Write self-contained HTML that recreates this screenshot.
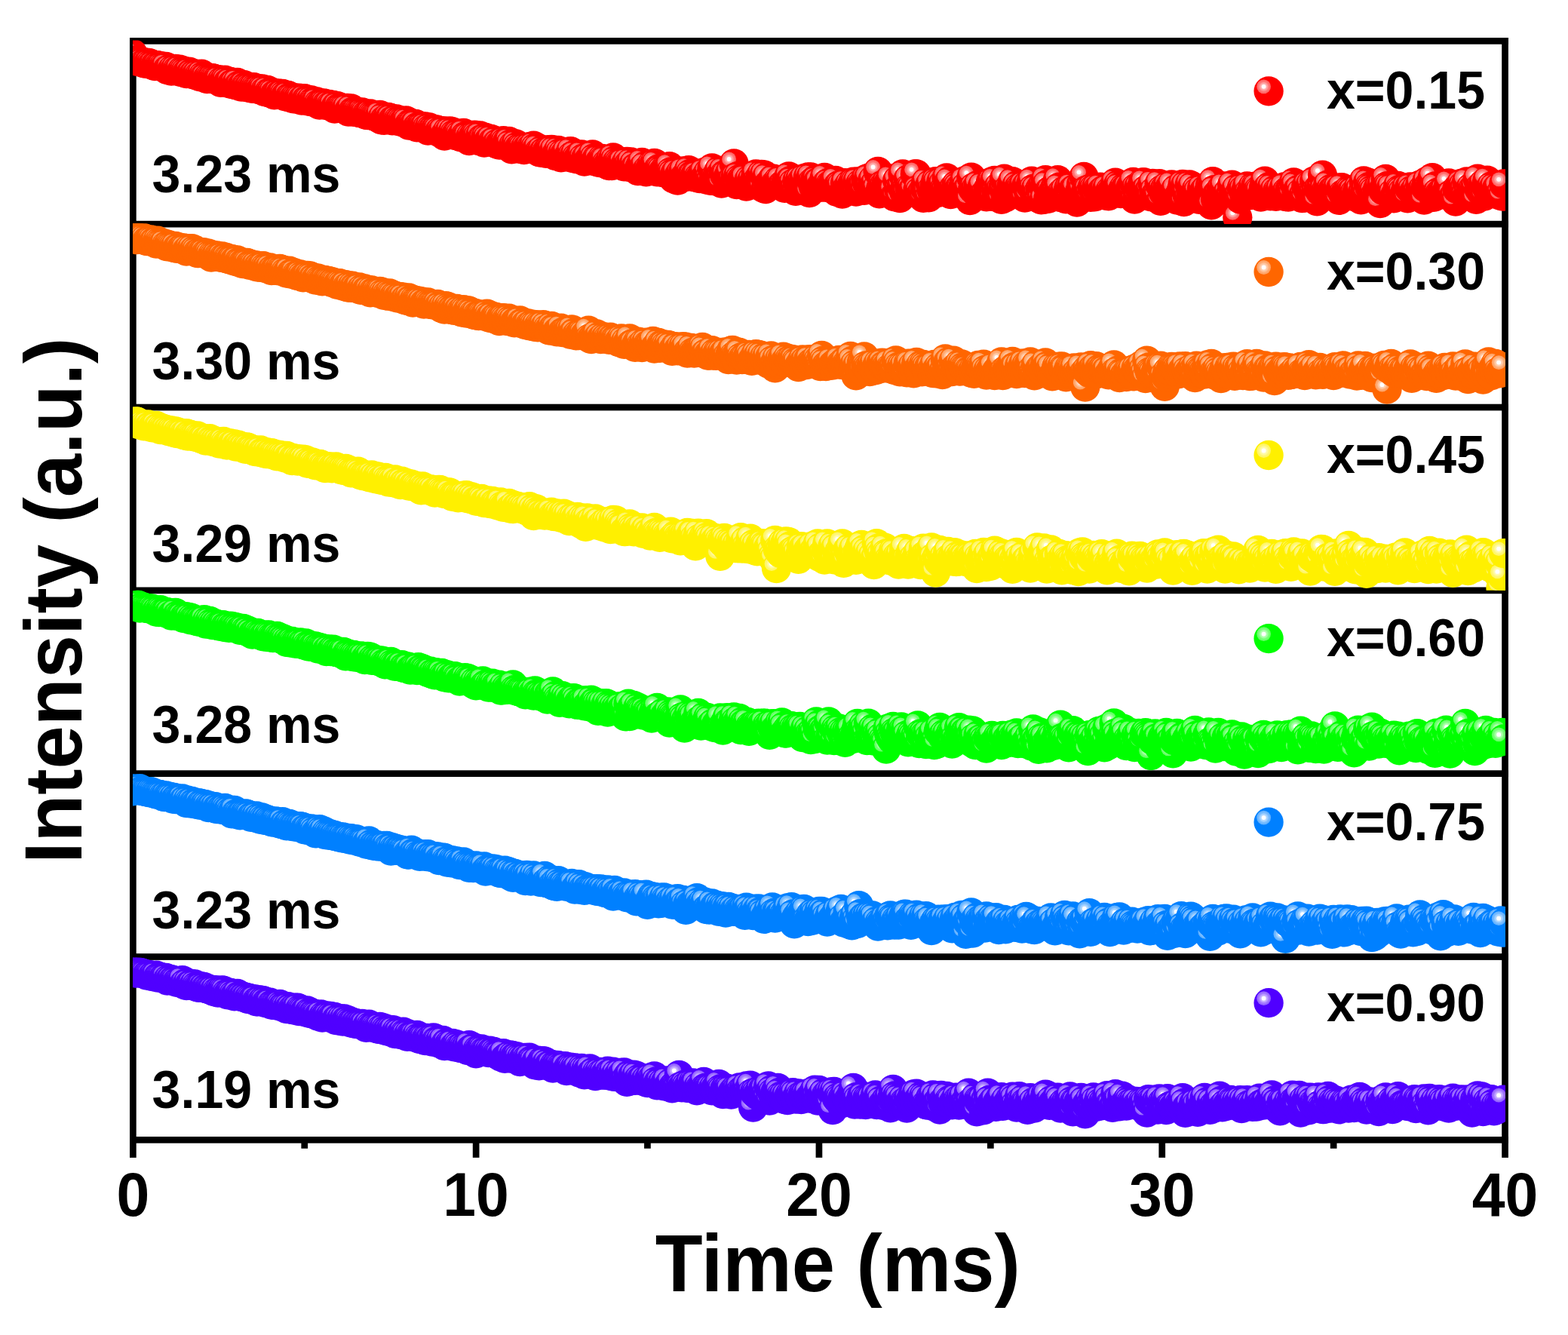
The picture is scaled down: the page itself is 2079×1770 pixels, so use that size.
<!DOCTYPE html>
<html lang="en"><head><meta charset="utf-8"><title>Decay curves</title>
<style>html,body{margin:0;padding:0;background:#fff}svg{display:block}text{font-family:"Liberation Sans",Arial,Helvetica,sans-serif;font-weight:bold;fill:#000}</style>
</head><body>
<svg width="2079" height="1770" viewBox="0 0 2079 1770">
<rect width="2079" height="1770" fill="#fff"/>
<defs>
<g id="s0"><circle r="19.65" fill="#ff0000"/><circle cx="-6.5" cy="-6" r="9.4" fill="#ff6666"/><circle cx="-6.5" cy="-6" r="7.6" fill="#ff7a7a"/><circle cx="-6.5" cy="-6" r="5.9" fill="#ff9e9e"/><circle cx="-6.5" cy="-6" r="4.3" fill="#ffb8b8"/><circle cx="-6.5" cy="-6" r="2.9" fill="#fff"/></g>
<marker id="m0" markerUnits="userSpaceOnUse" markerWidth="42" markerHeight="42" viewBox="-21 -21 42 42" refX="0" refY="0"><use href="#s0"/></marker>
<clipPath id="c0"><rect x="176" y="53.6" width="1820" height="243.5"/></clipPath>
<g id="s1"><circle r="19.65" fill="#ff6600"/><circle cx="-6.5" cy="-6" r="9.4" fill="#ffa366"/><circle cx="-6.5" cy="-6" r="7.6" fill="#ffaf7a"/><circle cx="-6.5" cy="-6" r="5.9" fill="#ffc59e"/><circle cx="-6.5" cy="-6" r="4.3" fill="#ffd4b8"/><circle cx="-6.5" cy="-6" r="2.9" fill="#fff"/></g>
<marker id="m1" markerUnits="userSpaceOnUse" markerWidth="42" markerHeight="42" viewBox="-21 -21 42 42" refX="0" refY="0"><use href="#s1"/></marker>
<clipPath id="c1"><rect x="176" y="296.5" width="1820" height="243.5"/></clipPath>
<g id="s2"><circle r="19.65" fill="#fff000"/><circle cx="-6.5" cy="-6" r="9.4" fill="#fff666"/><circle cx="-6.5" cy="-6" r="7.6" fill="#fff77a"/><circle cx="-6.5" cy="-6" r="5.9" fill="#fff99e"/><circle cx="-6.5" cy="-6" r="4.3" fill="#fffbb8"/><circle cx="-6.5" cy="-6" r="2.9" fill="#fff"/></g>
<marker id="m2" markerUnits="userSpaceOnUse" markerWidth="42" markerHeight="42" viewBox="-21 -21 42 42" refX="0" refY="0"><use href="#s2"/></marker>
<clipPath id="c2"><rect x="176" y="539.3" width="1820" height="243.5"/></clipPath>
<g id="s3"><circle r="19.65" fill="#00ff00"/><circle cx="-6.5" cy="-6" r="9.4" fill="#66ff66"/><circle cx="-6.5" cy="-6" r="7.6" fill="#7aff7a"/><circle cx="-6.5" cy="-6" r="5.9" fill="#9eff9e"/><circle cx="-6.5" cy="-6" r="4.3" fill="#b8ffb8"/><circle cx="-6.5" cy="-6" r="2.9" fill="#fff"/></g>
<marker id="m3" markerUnits="userSpaceOnUse" markerWidth="42" markerHeight="42" viewBox="-21 -21 42 42" refX="0" refY="0"><use href="#s3"/></marker>
<clipPath id="c3"><rect x="176" y="782.1" width="1820" height="243.5"/></clipPath>
<g id="s4"><circle r="19.65" fill="#0080ff"/><circle cx="-6.5" cy="-6" r="9.4" fill="#66b3ff"/><circle cx="-6.5" cy="-6" r="7.6" fill="#7abdff"/><circle cx="-6.5" cy="-6" r="5.9" fill="#9ecfff"/><circle cx="-6.5" cy="-6" r="4.3" fill="#b8dbff"/><circle cx="-6.5" cy="-6" r="2.9" fill="#fff"/></g>
<marker id="m4" markerUnits="userSpaceOnUse" markerWidth="42" markerHeight="42" viewBox="-21 -21 42 42" refX="0" refY="0"><use href="#s4"/></marker>
<clipPath id="c4"><rect x="176" y="1025" width="1820" height="243.5"/></clipPath>
<g id="s5"><circle r="19.65" fill="#5000ff"/><circle cx="-6.5" cy="-6" r="9.4" fill="#9666ff"/><circle cx="-6.5" cy="-6" r="7.6" fill="#a47aff"/><circle cx="-6.5" cy="-6" r="5.9" fill="#bc9eff"/><circle cx="-6.5" cy="-6" r="4.3" fill="#ceb8ff"/><circle cx="-6.5" cy="-6" r="2.9" fill="#fff"/></g>
<marker id="m5" markerUnits="userSpaceOnUse" markerWidth="42" markerHeight="42" viewBox="-21 -21 42 42" refX="0" refY="0"><use href="#s5"/></marker>
<clipPath id="c5"><rect x="176" y="1267.8" width="1820" height="243.5"/></clipPath>
</defs>
<g fill="#000">
<rect x="172" y="50" width="8.7" height="1484.9"/>
<rect x="1991.2" y="50" width="8.7" height="1484.9"/>
<rect x="172" y="50" width="1827.9" height="8.7"/>
<rect x="172" y="292.8" width="1827.9" height="8.7"/>
<rect x="172" y="535.7" width="1827.9" height="8.7"/>
<rect x="172" y="778.5" width="1827.9" height="8.7"/>
<rect x="172" y="1021.3" width="1827.9" height="8.7"/>
<rect x="172" y="1264.2" width="1827.9" height="8.7"/>
<rect x="172" y="1507" width="1827.9" height="8.7"/>
<rect x="626.8" y="1511.3" width="8.7" height="23.55"/>
<rect x="1081.6" y="1511.3" width="8.7" height="23.55"/>
<rect x="1536.4" y="1511.3" width="8.7" height="23.55"/>
<rect x="399.4" y="1511.3" width="8.7" height="11.45"/>
<rect x="854.1" y="1511.3" width="8.7" height="11.45"/>
<rect x="1309" y="1511.3" width="8.7" height="11.45"/>
<rect x="1763.8" y="1511.3" width="8.7" height="11.45"/>
</g>
<g clip-path="url(#c0)"><polyline fill="none" stroke="none" marker-start="url(#m0)" marker-mid="url(#m0)" marker-end="url(#m0)" points="176.3,71.5 178.1,80.1 179.9,80.8 181.8,80 183.6,80.8 185.4,82.2 187.2,81.5 189,82.3 190.9,83.8 192.7,84.2 194.5,83.2 196.3,84 198.1,83.7 199.9,84.8 201.8,86 203.6,85.8 205.4,87.5 207.2,86.7 209,86.6 210.9,87.6 212.7,88 214.5,87.8 216.3,88.8 218.1,89.6 220,88.3 221.8,92.6 223.6,92.4 225.4,90.8 227.2,94.1 229.1,92 230.9,93.6 232.7,91.4 234.5,93.4 236.3,94.1 238.2,92.1 240,95.6 241.8,93.3 243.6,94.5 245.4,95.9 247.2,97.5 249.1,96.1 250.9,95.1 252.7,97.7 254.5,97.1 256.3,98.8 258.2,98.2 260,99.6 261.8,98.3 263.6,100.6 265.4,101.8 267.3,98.1 269.1,101 270.9,102.4 272.7,102.3 274.5,104.7 276.4,102.8 278.2,103.9 280,104.5 281.8,103.6 283.6,104.5 285.5,104.9 287.3,105.9 289.1,105.8 290.9,105.9 292.7,109.3 294.5,107.1 296.4,108.1 298.2,106.2 300,107.3 301.8,110.2 303.6,109.4 305.5,108.5 307.3,111.7 309.1,111.2 310.9,110.3 312.7,112.9 314.6,109.4 316.4,113.7 318.2,113.3 320,115 321.8,113.1 323.7,112.6 325.5,115 327.3,115.2 329.1,116.1 330.9,115.5 332.8,116.6 334.6,117.4 336.4,115.6 338.2,117 340,117.9 341.8,118.2 343.7,117.9 345.5,119.1 347.3,117.8 349.1,118.6 350.9,121.5 352.8,121.6 354.6,119.4 356.4,122.8 358.2,123.2 360,122.1 361.9,123 363.7,125.8 365.5,124.8 367.3,124.3 369.1,123.9 371,125.4 372.8,124.7 374.6,124.4 376.4,126.2 378.2,127.9 380.1,126.6 381.9,126.4 383.7,129.2 385.5,128.9 387.3,129.3 389.1,130.8 391,129.8 392.8,130.6 394.6,131.3 396.4,130.1 398.2,130.8 400.1,133.2 401.9,131.4 403.7,130.7 405.5,133.2 407.3,132.3 409.2,132.6 411,134.7 412.8,132.9 414.6,134.8 416.4,135.1 418.3,135.4 420.1,134.8 421.9,138.2 423.7,139.2 425.5,138 427.3,137.4 429.2,137 431,137.7 432.8,139.5 434.6,139.4 436.4,138.4 438.3,140.3 440.1,141.1 441.9,139.4 443.7,144.2 445.5,141.1 447.4,140.7 449.2,143.2 451,143.1 452.8,142.9 454.6,143.5 456.5,143.8 458.3,145.5 460.1,143.5 461.9,148.2 463.7,145.7 465.6,143.8 467.4,148.1 469.2,147.9 471,147.9 472.8,147.8 474.6,148.8 476.5,149.6 478.3,149.9 480.1,148.8 481.9,150 483.7,150.8 485.6,152.4 487.4,152.7 489.2,152.2 491,150.9 492.8,152.5 494.7,153.5 496.5,154.2 498.3,154.4 500.1,154.9 501.9,156.7 503.8,152.4 505.6,158.9 507.4,155.3 509.2,159.4 511,158.4 512.9,158.2 514.7,155.3 516.5,157.2 518.3,156.7 520.1,159.8 521.9,159.3 523.8,158.6 525.6,157.8 527.4,159.9 529.2,160.9 531,160.2 532.9,161.2 534.7,162.1 536.5,160.6 538.3,159.8 540.1,161.2 542,166.1 543.8,163.8 545.6,164.1 547.4,164.2 549.2,165.2 551.1,164.3 552.9,168.9 554.7,167.9 556.5,168.4 558.3,167.9 560.2,167.8 562,168.7 563.8,168 565.6,170.7 567.4,173 569.2,169 571.1,171.1 572.9,172.1 574.7,171.9 576.5,172.3 578.3,171.9 580.2,172.4 582,175.3 583.8,173.9 585.6,175.2 587.4,173.7 589.3,180 591.1,178.6 592.9,174.3 594.7,176.9 596.5,173.8 598.4,178.3 600.2,174.9 602,178.2 603.8,179.6 605.6,177.4 607.5,177.3 609.3,179.2 611.1,181.8 612.9,179 614.7,176.4 616.5,180.7 618.4,181 620.2,180.8 622,186.6 623.8,181.3 625.6,183.4 627.5,180.6 629.3,179.1 631.1,179.6 632.9,181.7 634.7,186.5 636.6,179.9 638.4,184.4 640.2,184.7 642,189 643.8,182.5 645.7,183.9 647.5,187.6 649.3,185.3 651.1,184.4 652.9,188.3 654.7,188.5 656.6,186.7 658.4,190.9 660.2,190.2 662,192.2 663.8,191.5 665.7,189.1 667.5,186.7 669.3,188.7 671.1,191.6 672.9,187.6 674.8,187.4 676.6,191.2 678.4,197.9 680.2,193.3 682,195.9 683.9,190.8 685.7,194.5 687.5,197.2 689.3,196.7 691.1,195 693,195.6 694.8,198.5 696.6,195.5 698.4,197.1 700.2,196.8 702,194.6 703.9,196.5 705.7,197.1 707.5,193.2 709.3,196.1 711.1,198.8 713,196.2 714.8,201.6 716.6,202.1 718.4,198.9 720.2,202.2 722.1,201 723.9,203.4 725.7,199.8 727.5,198.7 729.3,198.9 731.2,198.3 733,203.8 734.8,199.1 736.6,206.5 738.4,203.1 740.3,199.4 742.1,203 743.9,208.9 745.7,203.8 747.5,206.5 749.3,204.4 751.2,201.4 753,208.2 754.8,205.6 756.6,200.7 758.4,206.6 760.3,209.9 762.1,204.8 763.9,209.5 765.7,210.8 767.5,210.2 769.4,205.5 771.2,204.9 773,210 774.8,214.2 776.6,210 778.5,208.4 780.3,212.6 782.1,211.1 783.9,208 785.7,204.8 787.6,209.6 789.4,214 791.2,210.3 793,210.6 794.8,215.5 796.6,213.9 798.5,210.5 800.3,211.6 802.1,212.2 803.9,217.4 805.7,218.7 807.6,219.7 809.4,211.5 811.2,219.5 813,208.9 814.8,213 816.7,217 818.5,214.9 820.3,216.5 822.1,217.5 823.9,217.7 825.8,215.2 827.6,220.8 829.4,218 831.2,214.3 833,218.7 834.9,221.6 836.7,215 838.5,222.2 840.3,217.7 842.1,222.3 843.9,222 845.8,226.7 847.6,222.8 849.4,218.8 851.2,215.5 853,222.3 854.9,220.1 856.7,227.8 858.5,224.9 860.3,226.5 862.1,223.2 864,218.3 865.8,220.5 867.6,216.4 869.4,217.4 871.2,227.9 873.1,224 874.9,224.5 876.7,225.9 878.5,228.6 880.3,228.7 882.1,223.8 884,223.6 885.8,223.7 887.6,220.6 889.4,227.8 891.2,230.2 893.1,236.9 894.9,230.4 896.7,228.8 898.5,239.2 900.3,232.3 902.2,229.3 904,234.9 905.8,226.9 907.6,234.8 909.4,233.7 911.3,230.9 913.1,225.7 914.9,230.5 916.7,232.9 918.5,232.9 920.4,234.9 922.2,231.4 924,231.6 925.8,235.7 927.6,236.6 929.4,234.8 931.3,230.3 933.1,228.7 934.9,235.6 936.7,238.2 938.5,229.3 940.4,235.4 942.2,239.3 944,222.9 945.8,239.5 947.6,236.1 949.5,236.2 951.3,236.5 953.1,226.5 954.9,232.6 956.7,243 958.6,226.4 960.4,231.6 962.2,231.9 964,238.1 965.8,233.6 967.7,228.8 969.5,240 971.3,239.2 973.1,216.9 974.9,235.2 976.7,244.7 978.6,233.4 980.4,237.3 982.2,239.4 984,237.6 985.8,237.6 987.7,236.5 989.5,247 991.3,244.6 993.1,238.3 994.9,245.2 996.8,239.2 998.6,242.8 1000.4,240.5 1002.2,231 1004,240.1 1005.9,242 1007.7,234.6 1009.5,231.4 1011.3,248.9 1013.1,231.9 1015,250.7 1016.8,234.7 1018.6,245.2 1020.4,244.2 1022.2,243.4 1024,237.8 1025.9,237.1 1027.7,244.3 1029.5,244.3 1031.3,240 1033.1,241.3 1035,238.3 1036.8,245.8 1038.6,244.7 1040.4,249.3 1042.2,240.9 1044.1,242.2 1045.9,234 1047.7,239.6 1049.5,239.3 1051.3,243.3 1053.2,249.7 1055,253.3 1056.8,240.1 1058.6,247.8 1060.4,238.5 1062.3,241.5 1064.1,244.2 1065.9,236.6 1067.7,246.9 1069.5,245.6 1071.3,235 1073.2,255.6 1075,235 1076.8,241.9 1078.6,247.7 1080.4,238.9 1082.3,238.6 1084.1,241.3 1085.9,241.1 1087.7,248.3 1089.5,245.4 1091.4,245.2 1093.2,235.5 1095,248.4 1096.8,243.1 1098.6,242.1 1100.5,245.4 1102.3,246.3 1104.1,242.8 1105.9,242.1 1107.7,239.5 1109.5,254.4 1111.4,245.8 1113.2,245.3 1115,247 1116.8,257.2 1118.6,254.5 1120.5,242.7 1122.3,250.7 1124.1,251.5 1125.9,245 1127.7,248.7 1129.6,245 1131.4,241.2 1133.2,242.2 1135,254.1 1136.8,240.8 1138.7,249.6 1140.5,244 1142.3,245.8 1144.1,246.1 1145.9,252.4 1147.8,237.7 1149.6,243 1151.4,236.2 1153.2,248.2 1155,250.1 1156.8,239 1158.7,246.3 1160.5,243.2 1162.3,249.9 1164.1,227.5 1165.9,256.8 1167.8,249.6 1169.6,245.4 1171.4,246.9 1173.2,249.8 1175,242.9 1176.9,244.2 1178.7,246.8 1180.5,237 1182.3,254.4 1184.1,253 1186,260.9 1187.8,260.5 1189.6,239.3 1191.4,250.8 1193.2,262.5 1195.1,246.4 1196.9,231 1198.7,254.6 1200.5,245.8 1202.3,256.4 1204.1,237.7 1206,248.8 1207.8,250 1209.6,252.8 1211.4,252.2 1213.2,230.9 1215.1,230.8 1216.9,251.4 1218.7,254.3 1220.5,258.7 1222.3,255.5 1224.2,262.4 1226,249.5 1227.8,241.3 1229.6,254.1 1231.4,261.9 1233.3,244.1 1235.1,252.1 1236.9,256.9 1238.7,248.7 1240.5,240.7 1242.4,242.4 1244.2,255.4 1246,248.1 1247.8,240.7 1249.6,244.8 1251.4,251.6 1253.3,252.6 1255.1,235.8 1256.9,248.3 1258.7,239.8 1260.5,257.7 1262.4,253.9 1264.2,249.8 1266,253.3 1267.8,245.3 1269.6,247.7 1271.5,250.3 1273.3,250 1275.1,253.3 1276.9,247.4 1278.7,239.8 1280.6,247.3 1282.4,251.3 1284.2,250.2 1286,265.5 1287.8,235.2 1289.7,250.5 1291.5,248.1 1293.3,251.2 1295.1,256 1296.9,245.2 1298.7,256 1300.6,254 1302.4,246.7 1304.2,259.1 1306,258.1 1307.8,260.9 1309.7,251.2 1311.5,251.8 1313.3,241.8 1315.1,240.8 1316.9,260.7 1318.8,239.5 1320.6,253.5 1322.4,257.2 1324.2,248 1326,251.8 1327.9,264.3 1329.7,249.1 1331.5,237.1 1333.3,261.9 1335.1,258.2 1336.9,250.6 1338.8,256.6 1340.6,247.9 1342.4,240.7 1344.2,255.9 1346,254.2 1347.9,246 1349.7,250.5 1351.5,248.3 1353.3,249.5 1355.1,251.9 1357,245.6 1358.8,262.2 1360.6,247 1362.4,245.3 1364.2,259.7 1366.1,245.7 1367.9,240.1 1369.7,250.5 1371.5,255.9 1373.3,250.3 1375.2,257.2 1377,262.8 1378.8,250.3 1380.6,264.9 1382.4,245.5 1384.2,264.3 1386.1,238.7 1387.9,244.6 1389.7,263.3 1391.5,253.1 1393.3,252.7 1395.2,255.9 1397,256.3 1398.8,248.7 1400.6,252.7 1402.4,238.7 1404.3,248.2 1406.1,261.7 1407.9,255.6 1409.7,259 1411.5,252.6 1413.4,263.9 1415.2,255.5 1417,249.6 1418.8,258.7 1420.6,247.1 1422.5,251.9 1424.3,250.9 1426.1,249.8 1427.9,268.2 1429.7,259.5 1431.5,254.1 1433.4,244.8 1435.2,251.7 1437,234.3 1438.8,256 1440.6,251.8 1442.5,252 1444.3,257 1446.1,261.4 1447.9,249 1449.7,250.6 1451.6,260.8 1453.4,249 1455.2,251.3 1457,252.6 1458.8,248.2 1460.7,253.9 1462.5,252.4 1464.3,251.5 1466.1,259.2 1467.9,249.8 1469.8,259.8 1471.6,253.5 1473.4,254.3 1475.2,254.4 1477,249.3 1478.8,242.1 1480.7,250.5 1482.5,245 1484.3,247.7 1486.1,256.6 1487.9,253 1489.8,249.1 1491.6,250.3 1493.4,249.9 1495.2,248.4 1497,254.8 1498.9,248.7 1500.7,253 1502.5,241.4 1504.3,264.2 1506.1,249.1 1508,259.9 1509.8,248.1 1511.6,251.6 1513.4,252.8 1515.2,241.9 1517.1,242 1518.9,252.3 1520.7,250.8 1522.5,254.9 1524.3,252.4 1526.1,260.8 1528,243.5 1529.8,254 1531.6,259.1 1533.4,259 1535.2,260 1537.1,243.6 1538.9,266.3 1540.7,251.1 1542.5,255 1544.3,250.7 1546.2,255.9 1548,246.5 1549.8,250.4 1551.6,254.9 1553.4,244.8 1555.3,258.4 1557.1,257.4 1558.9,250.9 1560.7,265 1562.5,260.3 1564.3,261 1566.2,252.2 1568,244.4 1569.8,267.6 1571.6,245.6 1573.4,256.5 1575.3,262.4 1577.1,245 1578.9,255.6 1580.7,246.9 1582.5,259.4 1584.4,259.8 1586.2,251.4 1588,254.3 1589.8,264.4 1591.6,259.3 1593.5,249.9 1595.3,255.5 1597.1,252.7 1598.9,251.2 1600.7,259 1602.6,253.9 1604.4,245.9 1606.2,271.9 1608,240.6 1609.8,251.6 1611.6,264.6 1613.5,257.8 1615.3,256.7 1617.1,259.7 1618.9,250.9 1620.7,255.3 1622.6,247 1624.4,265.1 1626.2,261.8 1628,255.6 1629.8,260.8 1631.7,260.1 1633.5,245.1 1635.3,258.6 1637.1,256.3 1638.9,250.5 1640.8,288.3 1642.6,257.9 1644.4,264.1 1646.2,249 1648,252 1649.9,259.5 1651.7,253.3 1653.5,247 1655.3,255.9 1657.1,258.9 1658.9,254.9 1660.8,247.8 1662.6,254.8 1664.4,247.2 1666.2,248 1668,252.6 1669.9,254 1671.7,261.1 1673.5,259.5 1675.3,249.3 1677.1,240.1 1679,257.2 1680.8,249.8 1682.6,247.7 1684.4,259.8 1686.2,248.5 1688.1,256 1689.9,252.1 1691.7,260.3 1693.5,253.8 1695.3,255.7 1697.2,251.4 1699,258.9 1700.8,253.6 1702.6,248 1704.4,260.7 1706.2,253.9 1708.1,261.2 1709.9,251.2 1711.7,250.8 1713.5,257.4 1715.3,242 1717.2,246 1719,255.3 1720.8,251.7 1722.6,251.1 1724.4,256 1726.3,262.5 1728.1,258.9 1729.9,262.1 1731.7,247.5 1733.5,245.1 1735.4,255.4 1737.2,245.2 1739,254.2 1740.8,255.1 1742.6,240 1744.5,254.6 1746.3,266.9 1748.1,249.9 1749.9,253.3 1751.7,245.8 1753.5,232.2 1755.4,251.1 1757.2,254.3 1759,255.4 1760.8,244.8 1762.6,254.6 1764.5,250.3 1766.3,253 1768.1,252 1769.9,251.4 1771.7,252.6 1773.6,249.1 1775.4,265.3 1777.2,250.6 1779,248.6 1780.8,257.2 1782.7,257.6 1784.5,255.5 1786.3,255.6 1788.1,251.7 1789.9,252.8 1791.7,254.6 1793.6,253.6 1795.4,257 1797.2,261.1 1799,255 1800.8,249.3 1802.7,252 1804.5,264.9 1806.3,255.5 1808.1,240 1809.9,251.1 1811.8,257.1 1813.6,241.8 1815.4,247.5 1817.2,248.9 1819,251.7 1820.9,254 1822.7,259.1 1824.5,261.5 1826.3,251.6 1828.1,248.3 1830,269.7 1831.8,245.6 1833.6,252.3 1835.4,249.9 1837.2,237.4 1839,246.7 1840.9,248 1842.7,256.2 1844.5,249 1846.3,256.7 1848.1,262.9 1850,258.1 1851.8,258.6 1853.6,246.3 1855.4,251.4 1857.2,252.6 1859.1,255.2 1860.9,260.3 1862.7,255.4 1864.5,249.3 1866.3,262.9 1868.2,249.2 1870,247.9 1871.8,252.2 1873.6,256 1875.4,255.9 1877.3,250.5 1879.1,254.7 1880.9,258.2 1882.7,245.1 1884.5,254 1886.3,250.7 1888.2,265.2 1890,248.5 1891.8,240.4 1893.6,246.9 1895.4,249.3 1897.3,242.2 1899.1,235.6 1900.9,261.3 1902.7,247 1904.5,256.8 1906.4,254.8 1908.2,257.6 1910,258.2 1911.8,254.1 1913.6,253.7 1915.5,251.7 1917.3,255.4 1919.1,251.8 1920.9,242.8 1922.7,258.6 1924.6,257.5 1926.4,261.9 1928.2,260.2 1930,267.1 1931.8,250.6 1933.6,250.7 1935.5,249.3 1937.3,243.5 1939.1,247 1940.9,250.5 1942.7,258.3 1944.6,241 1946.4,256 1948.2,258.4 1950,248.8 1951.8,251.9 1953.7,256.6 1955.5,248.1 1957.3,264.3 1959.1,237.2 1960.9,250.3 1962.8,248 1964.6,255.4 1966.4,244.1 1968.2,260 1970,246.7 1971.9,239.2 1973.7,255.6 1975.5,252.3 1977.3,246.9 1979.1,251 1980.9,247.9 1982.8,254.5 1984.6,249.6 1986.4,248.3 1988.2,258.9 1990,255.5 1991.9,260.2 1993.7,243.8"/></g>
<g clip-path="url(#c1)"><polyline fill="none" stroke="none" marker-start="url(#m1)" marker-mid="url(#m1)" marker-end="url(#m1)" points="176.3,314.7 178.1,314.5 179.9,315.3 181.8,317.6 183.6,315.1 185.4,316 187.2,317.3 189,315.1 190.9,315.7 192.7,317.1 194.5,319.7 196.3,319.5 198.1,318.6 199.9,318 201.8,318.8 203.6,320.9 205.4,320.7 207.2,323.1 209,319.2 210.9,320.9 212.7,322.1 214.5,323 216.3,323.9 218.1,322.9 220,326.2 221.8,326.8 223.6,324.6 225.4,325.7 227.2,326.3 229.1,327.3 230.9,328.6 232.7,326.5 234.5,329.3 236.3,328.5 238.2,328.1 240,330 241.8,329.4 243.6,329 245.4,329.6 247.2,333 249.1,331.6 250.9,329.6 252.7,331.8 254.5,329.7 256.3,332.8 258.2,331.5 260,333.2 261.8,335.6 263.6,335.7 265.4,334.3 267.3,335.1 269.1,335 270.9,334.8 272.7,336.8 274.5,336.8 276.4,336.1 278.2,338 280,341.2 281.8,338.1 283.6,339.1 285.5,340 287.3,339 289.1,340.5 290.9,340.6 292.7,341.2 294.5,339.9 296.4,341.9 298.2,342.1 300,341.5 301.8,343.1 303.6,343.4 305.5,344.4 307.3,343.6 309.1,344.2 310.9,346 312.7,345.6 314.6,344.9 316.4,347.5 318.2,347.3 320,347.8 321.8,349.5 323.7,349.2 325.5,348.7 327.3,348.5 329.1,349.1 330.9,351.4 332.8,350.6 334.6,350.8 336.4,351.7 338.2,353.2 340,351.9 341.8,354.1 343.7,353.5 345.5,354.4 347.3,352.8 349.1,352.6 350.9,354.9 352.8,355.9 354.6,355.2 356.4,356.6 358.2,354.8 360,358.5 361.9,357.3 363.7,358.3 365.5,357.7 367.3,357.6 369.1,358.9 371,356.5 372.8,357.5 374.6,358 376.4,358.3 378.2,361.1 380.1,362.2 381.9,361.3 383.7,359.2 385.5,363 387.3,362.2 389.1,361.8 391,362 392.8,364.9 394.6,365.5 396.4,364.4 398.2,363.8 400.1,365.8 401.9,367.9 403.7,366.8 405.5,366.4 407.3,365.5 409.2,366.9 411,366 412.8,367 414.6,369.4 416.4,369.2 418.3,371 420.1,369.1 421.9,369.2 423.7,371.1 425.5,372.1 427.3,372.8 429.2,372.3 431,371.5 432.8,372.3 434.6,372.7 436.4,372.6 438.3,373.3 440.1,374.6 441.9,374.1 443.7,375.1 445.5,375.9 447.4,377.3 449.2,375.6 451,375.8 452.8,377.5 454.6,379.2 456.5,377.9 458.3,377.7 460.1,380.7 461.9,381 463.7,378.9 465.6,381.4 467.4,379.1 469.2,381.1 471,381.1 472.8,382.4 474.6,381.6 476.5,380.8 478.3,384.3 480.1,382.8 481.9,384.6 483.7,383 485.6,385.3 487.4,384.9 489.2,384.7 491,387.8 492.8,384.8 494.7,387.3 496.5,387.6 498.3,386.8 500.1,388 501.9,388.3 503.8,386.4 505.6,386.9 507.4,389.5 509.2,391.3 511,388.9 512.9,391.2 514.7,392.2 516.5,389 518.3,390.5 520.1,391.4 521.9,393.7 523.8,392.2 525.6,392.9 527.4,395.2 529.2,393.7 531,393.7 532.9,394.9 534.7,394.1 536.5,397.6 538.3,396.9 540.1,398.7 542,395 543.8,397.7 545.6,397.7 547.4,401 549.2,398 551.1,399 552.9,399.2 554.7,399.2 556.5,399.3 558.3,401.4 560.2,400.2 562,403 563.8,402.3 565.6,401.4 567.4,400.8 569.2,402.4 571.1,403.5 572.9,403.5 574.7,403.8 576.5,403.8 578.3,404.4 580.2,403.3 582,406 583.8,406 585.6,408.7 587.4,406.6 589.3,410 591.1,405.7 592.9,409.2 594.7,407 596.5,409 598.4,410.7 600.2,410.5 602,411.3 603.8,410.7 605.6,409.5 607.5,411.6 609.3,411.2 611.1,413.4 612.9,414 614.7,410.6 616.5,412.1 618.4,415.1 620.2,411.8 622,412.1 623.8,413.9 625.6,414.3 627.5,416.8 629.3,417.6 631.1,415.6 632.9,418.2 634.7,418.5 636.6,417.6 638.4,417.2 640.2,418.1 642,419.2 643.8,418.5 645.7,416.1 647.5,418.9 649.3,421.4 651.1,420.3 652.9,419.1 654.7,422.6 656.6,420.8 658.4,420.7 660.2,421.8 662,425.5 663.8,421.9 665.7,421.9 667.5,421.6 669.3,423.1 671.1,424.9 672.9,425.7 674.8,422.1 676.6,424.5 678.4,426.4 680.2,424.8 682,427.8 683.9,426.3 685.7,425.7 687.5,425.7 689.3,424.9 691.1,428.7 693,428.2 694.8,427.9 696.6,430.6 698.4,429.5 700.2,428.8 702,431.8 703.9,431.8 705.7,430.1 707.5,431.3 709.3,433.3 711.1,430.7 713,433.8 714.8,431.5 716.6,432.6 718.4,433.2 720.2,430.7 722.1,433.8 723.9,432 725.7,435.9 727.5,437.7 729.3,438.1 731.2,432.5 733,435.6 734.8,435.1 736.6,435.7 738.4,439.8 740.3,438.8 742.1,437.9 743.9,435.1 745.7,440.6 747.5,440.1 749.3,439.1 751.2,439 753,439.3 754.8,438.6 756.6,443.4 758.4,437 760.3,441.6 762.1,441.2 763.9,444.9 765.7,443.5 767.5,444.6 769.4,442.6 771.2,442 773,442.7 774.8,445.3 776.6,444.3 778.5,443.4 780.3,438.1 782.1,448.5 783.9,449.7 785.7,448.4 787.6,448.1 789.4,447.1 791.2,442.9 793,447.6 794.8,446.2 796.6,449.7 798.5,448.4 800.3,446.7 802.1,448.9 803.9,447.7 805.7,449.4 807.6,450.4 809.4,447.2 811.2,449 813,449 814.8,450.3 816.7,450.3 818.5,450.9 820.3,453.6 822.1,453.8 823.9,449 825.8,450.9 827.6,456.3 829.4,453.1 831.2,455.9 833,455.3 834.9,449 836.7,456.5 838.5,455.8 840.3,455.5 842.1,460.3 843.9,456.3 845.8,453.2 847.6,453.7 849.4,458.5 851.2,460.5 853,455.2 854.9,457.4 856.7,454.1 858.5,457.4 860.3,457.6 862.1,456.6 864,458.3 865.8,452.3 867.6,462.1 869.4,460 871.2,458 873.1,454.4 874.9,461.4 876.7,457.2 878.5,457.5 880.3,457 882.1,458.9 884,461.1 885.8,457.4 887.6,460.1 889.4,458.7 891.2,465.4 893.1,464.4 894.9,459.8 896.7,459.8 898.5,464.9 900.3,462.6 902.2,460.5 904,465.2 905.8,459.6 907.6,462.5 909.4,460.1 911.3,468.1 913.1,466.2 914.9,467.6 916.7,461.5 918.5,467.1 920.4,468 922.2,467.3 924,466.8 925.8,464.1 927.6,463.7 929.4,464.2 931.3,460.3 933.1,462.9 934.9,469.2 936.7,468.3 938.5,471.1 940.4,471 942.2,468.8 944,464.6 945.8,471.2 947.6,468.1 949.5,471.3 951.3,467.5 953.1,468.2 954.9,470.8 956.7,467.3 958.6,470.1 960.4,467.8 962.2,466.8 964,472.9 965.8,476.7 967.7,470.7 969.5,464.9 971.3,464.5 973.1,471.9 974.9,472.9 976.7,477.1 978.6,467.2 980.4,467.3 982.2,473.9 984,476.5 985.8,474.3 987.7,474.4 989.5,476.4 991.3,472.4 993.1,470.4 994.9,473.1 996.8,478.4 998.6,476.3 1000.4,472.9 1002.2,469.7 1004,473.6 1005.9,470.5 1007.7,475.6 1009.5,471.4 1011.3,478 1013.1,473.9 1015,477.8 1016.8,473.1 1018.6,482.1 1020.4,474.6 1022.2,472 1024,477.6 1025.9,484 1027.7,487.8 1029.5,476.1 1031.3,483.2 1033.1,477.4 1035,482.1 1036.8,476 1038.6,473.1 1040.4,480.4 1042.2,480.7 1044.1,475.1 1045.9,477.9 1047.7,479.5 1049.5,476.3 1051.3,477.3 1053.2,477.2 1055,479.9 1056.8,481.1 1058.6,486.6 1060.4,483.3 1062.3,480.8 1064.1,477 1065.9,480 1067.7,478.5 1069.5,483.5 1071.3,477.5 1073.2,476.7 1075,481.6 1076.8,480.8 1078.6,480.8 1080.4,479.2 1082.3,475.7 1084.1,478.4 1085.9,481.6 1087.7,485.5 1089.5,471.3 1091.4,478.1 1093.2,480.8 1095,485.5 1096.8,484.2 1098.6,484.6 1100.5,481 1102.3,478.8 1104.1,484.2 1105.9,483 1107.7,481.7 1109.5,479.9 1111.4,477.8 1113.2,477.4 1115,483 1116.8,483.6 1118.6,479.7 1120.5,479.4 1122.3,482.8 1124.1,483.1 1125.9,482 1127.7,472.4 1129.6,478.5 1131.4,489.9 1133.2,483.1 1135,497.9 1136.8,484.6 1138.7,493 1140.5,490.5 1142.3,480.7 1144.1,491.4 1145.9,472.8 1147.8,484.8 1149.6,487.1 1151.4,488.3 1153.2,492.6 1155,484.5 1156.8,486.9 1158.7,482.2 1160.5,490.8 1162.3,486 1164.1,482.1 1165.9,489 1167.8,482.1 1169.6,481.1 1171.4,485 1173.2,485 1175,486.3 1176.9,488.1 1178.7,481.5 1180.5,487.9 1182.3,488.4 1184.1,487.7 1186,490.7 1187.8,477.8 1189.6,481.7 1191.4,486.2 1193.2,492.9 1195.1,485.7 1196.9,489.1 1198.7,485.1 1200.5,492.9 1202.3,493.9 1204.1,482.2 1206,482.5 1207.8,490.7 1209.6,486 1211.4,494.8 1213.2,488.1 1215.1,480.4 1216.9,490.1 1218.7,490.9 1220.5,484.4 1222.3,492.8 1224.2,483.5 1226,485.1 1227.8,487.6 1229.6,492 1231.4,487.2 1233.3,486.9 1235.1,491.1 1236.9,494.7 1238.7,483.4 1240.5,494.9 1242.4,489.3 1244.2,487 1246,489.4 1247.8,487.6 1249.6,496.5 1251.4,491.2 1253.3,476 1255.1,490.5 1256.9,480.1 1258.7,479.3 1260.5,487.8 1262.4,492.5 1264.2,478.1 1266,488.7 1267.8,487.5 1269.6,487.7 1271.5,482.8 1273.3,492.2 1275.1,483 1276.9,486.7 1278.7,488.2 1280.6,488.6 1282.4,489.1 1284.2,491.6 1286,492.2 1287.8,494.4 1289.7,490.9 1291.5,495.3 1293.3,488.2 1295.1,486.3 1296.9,484.4 1298.7,485.8 1300.6,487.2 1302.4,490.6 1304.2,483.2 1306,490.5 1307.8,497 1309.7,491.5 1311.5,494 1313.3,491.2 1315.1,488.2 1316.9,486.2 1318.8,497.5 1320.6,493.3 1322.4,490.6 1324.2,488.7 1326,488 1327.9,479.8 1329.7,497.7 1331.5,492.1 1333.3,495 1335.1,489.4 1336.9,490 1338.8,489.4 1340.6,488.2 1342.4,479.3 1344.2,486.6 1346,486.7 1347.9,495.7 1349.7,492.8 1351.5,484.9 1353.3,490.3 1355.1,487.7 1357,482 1358.8,494.6 1360.6,484.3 1362.4,490.4 1364.2,482.4 1366.1,480 1367.9,491.4 1369.7,494.5 1371.5,497.9 1373.3,483.8 1375.2,495 1377,495.6 1378.8,488.6 1380.6,488.8 1382.4,492.4 1384.2,487.5 1386.1,480.9 1387.9,485.6 1389.7,484.7 1391.5,491.3 1393.3,487.2 1395.2,498.8 1397,497.8 1398.8,496.9 1400.6,486.8 1402.4,488.6 1404.3,486.2 1406.1,492.3 1407.9,485.8 1409.7,488.8 1411.5,489.3 1413.4,499.9 1415.2,493.4 1417,488.7 1418.8,489.4 1420.6,489.9 1422.5,496.7 1424.3,487.8 1426.1,495.8 1427.9,493.8 1429.7,496.1 1431.5,494.3 1433.4,486.9 1435.2,498.7 1437,495.2 1438.8,513.1 1440.6,490.7 1442.5,492.6 1444.3,494.6 1446.1,484.6 1447.9,489.7 1449.7,488.4 1451.6,495 1453.4,485.6 1455.2,495.7 1457,489.5 1458.8,488.9 1460.7,489.9 1462.5,489.1 1464.3,489.7 1466.1,492.1 1467.9,491.3 1469.8,496.9 1471.6,495.2 1473.4,491.4 1475.2,488.8 1477,483.9 1478.8,493.1 1480.7,493.5 1482.5,491 1484.3,500.5 1486.1,494.5 1487.9,495.4 1489.8,499.4 1491.6,497.2 1493.4,499.5 1495.2,492.2 1497,492.7 1498.9,494.8 1500.7,490.6 1502.5,498.9 1504.3,498.5 1506.1,488.5 1508,490.6 1509.8,492.1 1511.6,486.9 1513.4,484.1 1515.2,490.7 1517.1,495.2 1518.9,501.5 1520.7,478.1 1522.5,487.1 1524.3,493 1526.1,494.1 1528,495.2 1529.8,498.7 1531.6,496.7 1533.4,489.5 1535.2,486.4 1537.1,498.8 1538.9,485.1 1540.7,486.2 1542.5,499.5 1544.3,512.4 1546.2,499.4 1548,492.4 1549.8,495.2 1551.6,491.6 1553.4,486.3 1555.3,487 1557.1,487.5 1558.9,487.3 1560.7,488.6 1562.5,495.8 1564.3,485.8 1566.2,493.6 1568,490.6 1569.8,488.9 1571.6,485.7 1573.4,492 1575.3,495.3 1577.1,493.2 1578.9,491.8 1580.7,487.9 1582.5,490.3 1584.4,500.6 1586.2,485.1 1588,493.7 1589.8,489.7 1591.6,491.6 1593.5,492.1 1595.3,493.5 1597.1,496 1598.9,488.9 1600.7,483.8 1602.6,489.1 1604.4,495.5 1606.2,482.3 1608,487.4 1609.8,494 1611.6,497.4 1613.5,489.4 1615.3,492.6 1617.1,495.9 1618.9,501.6 1620.7,495.3 1622.6,490.5 1624.4,487.7 1626.2,494.5 1628,495.8 1629.8,487.1 1631.7,487.4 1633.5,490.7 1635.3,486.1 1637.1,498.4 1638.9,489 1640.8,496.7 1642.6,488.6 1644.4,488.8 1646.2,494 1648,497.6 1649.9,494.2 1651.7,484.7 1653.5,482.6 1655.3,495.5 1657.1,498.5 1658.9,486 1660.8,498.1 1662.6,490.8 1664.4,495.3 1666.2,482.5 1668,487.2 1669.9,493.8 1671.7,495.2 1673.5,492.5 1675.3,500.1 1677.1,485 1679,495.7 1680.8,489.3 1682.6,489.6 1684.4,493.7 1686.2,489.2 1688.1,488.8 1689.9,504.7 1691.7,486.2 1693.5,490.9 1695.3,494.9 1697.2,494.4 1699,490.8 1700.8,490.9 1702.6,486.6 1704.4,487.2 1706.2,489 1708.1,497.4 1709.9,488 1711.7,496.7 1713.5,496 1715.3,495.5 1717.2,491 1719,493.3 1720.8,492.1 1722.6,493.2 1724.4,486.5 1726.3,494.3 1728.1,495.1 1729.9,497.5 1731.7,489.8 1733.5,489.1 1735.4,483.6 1737.2,486.8 1739,491.9 1740.8,494.2 1742.6,487.5 1744.5,496.9 1746.3,492.8 1748.1,492.3 1749.9,487.3 1751.7,494.7 1753.5,496.3 1755.4,495.9 1757.2,489.9 1759,491.5 1760.8,495 1762.6,492.4 1764.5,490.4 1766.3,493.1 1768.1,497.7 1769.9,486.6 1771.7,488 1773.6,489.8 1775.4,494.6 1777.2,490.6 1779,486.8 1780.8,484.8 1782.7,492.7 1784.5,486.3 1786.3,492.5 1788.1,492.4 1789.9,496.2 1791.7,490.5 1793.6,495.9 1795.4,494.9 1797.2,496.2 1799,498 1800.8,485 1802.7,489.7 1804.5,497.3 1806.3,492.9 1808.1,488.5 1809.9,485.4 1811.8,497.4 1813.6,495.5 1815.4,494.2 1817.2,490.5 1819,500.6 1820.9,489.9 1822.7,489.5 1824.5,488.1 1826.3,490.3 1828.1,496 1830,490.2 1831.8,489.2 1833.6,499.5 1835.4,484.5 1837.2,486.4 1839,516.2 1840.9,488.9 1842.7,484 1844.5,482.3 1846.3,489.9 1848.1,493.8 1850,487.3 1851.8,491.8 1853.6,490.7 1855.4,487.6 1857.2,491.2 1859.1,494.9 1860.9,490.8 1862.7,491.4 1864.5,496.6 1866.3,491.5 1868.2,487.8 1870,482.8 1871.8,501.4 1873.6,492.8 1875.4,488.2 1877.3,498.7 1879.1,487 1880.9,487.7 1882.7,491.1 1884.5,494.5 1886.3,491.4 1888.2,496.9 1890,495.3 1891.8,498.6 1893.6,485.2 1895.4,494.3 1897.3,488.9 1899.1,492.1 1900.9,491.3 1902.7,500.7 1904.5,501.3 1906.4,494.5 1908.2,495.4 1910,492 1911.8,498.2 1913.6,488.9 1915.5,487.4 1917.3,496.3 1919.1,489.2 1920.9,490.8 1922.7,492.2 1924.6,496.5 1926.4,485.8 1928.2,495 1930,498 1931.8,496.2 1933.6,489.2 1935.5,489.1 1937.3,497.4 1939.1,498.9 1940.9,491.8 1942.7,482.8 1944.6,492.7 1946.4,502.5 1948.2,491.5 1950,495.7 1951.8,494.2 1953.7,495.5 1955.5,486.1 1957.3,492.6 1959.1,492.1 1960.9,491.8 1962.8,488.5 1964.6,492.3 1966.4,503.2 1968.2,495.8 1970,486.7 1971.9,498.7 1973.7,480 1975.5,496 1977.3,497.9 1979.1,489.5 1980.9,487.1 1982.8,482.4 1984.6,484.1 1986.4,492.9 1988.2,494.8 1990,493.2 1991.9,490.2 1993.7,486.6"/></g>
<g clip-path="url(#c2)"><polyline fill="none" stroke="none" marker-start="url(#m2)" marker-mid="url(#m2)" marker-end="url(#m2)" points="176.3,560 178.1,560.7 179.9,558.5 181.8,559.1 183.6,561.9 185.4,563 187.2,562.3 189,563 190.9,564.9 192.7,563.3 194.5,564.5 196.3,562.9 198.1,565.6 199.9,565.6 201.8,566.8 203.6,565.9 205.4,565.8 207.2,564.3 209,567.1 210.9,567.1 212.7,569.6 214.5,567.6 216.3,569 218.1,569.7 220,569.3 221.8,571.2 223.6,570.6 225.4,572.1 227.2,570.8 229.1,572.1 230.9,573.5 232.7,571.8 234.5,574.6 236.3,573.1 238.2,574.1 240,574.8 241.8,574.5 243.6,576.5 245.4,577 247.2,574.7 249.1,578.1 250.9,576.1 252.7,576.3 254.5,577.7 256.3,578.3 258.2,578.7 260,579.3 261.8,578 263.6,579.8 265.4,580.8 267.3,581.9 269.1,581.3 270.9,581.6 272.7,584.1 274.5,583.5 276.4,583.3 278.2,581.7 280,584 281.8,584.5 283.6,585.8 285.5,584.9 287.3,586.4 289.1,586 290.9,588.1 292.7,586.4 294.5,587 296.4,585.3 298.2,588.1 300,589.9 301.8,589.9 303.6,588.2 305.5,587.9 307.3,589.9 309.1,590 310.9,589 312.7,592.2 314.6,591 316.4,590.2 318.2,591.6 320,592.1 321.8,593.5 323.7,593.1 325.5,595.3 327.3,592.8 329.1,593.4 330.9,595.5 332.8,595.7 334.6,595.9 336.4,597.7 338.2,598.7 340,597.1 341.8,598.9 343.7,598.4 345.5,596.9 347.3,600.1 349.1,599.9 350.9,600.1 352.8,601.5 354.6,599.9 356.4,601.8 358.2,601.8 360,600.7 361.9,601.9 363.7,602.2 365.5,602.8 367.3,604.8 369.1,603.1 371,603.7 372.8,605.1 374.6,604.2 376.4,605.8 378.2,607.1 380.1,604.3 381.9,607.3 383.7,607.3 385.5,607 387.3,610.6 389.1,608 391,608.1 392.8,608.3 394.6,611.1 396.4,609 398.2,610.4 400.1,610.9 401.9,609.2 403.7,611.6 405.5,609.8 407.3,614.1 409.2,612.3 411,614.5 412.8,614.4 414.6,613.2 416.4,615.4 418.3,616.8 420.1,616.1 421.9,616.4 423.7,615.4 425.5,615.8 427.3,618.2 429.2,618.6 431,620.5 432.8,618.8 434.6,619.2 436.4,618.9 438.3,619.2 440.1,620.9 441.9,619.7 443.7,619.8 445.5,619 447.4,620.9 449.2,620.7 451,621.9 452.8,622.9 454.6,622.5 456.5,623.7 458.3,621.3 460.1,622.5 461.9,623.2 463.7,625 465.6,626.9 467.4,625.9 469.2,626.5 471,626.5 472.8,627.4 474.6,625.2 476.5,626.6 478.3,629.9 480.1,629.3 481.9,630.8 483.7,630.1 485.6,630.3 487.4,630.9 489.2,632.3 491,633.1 492.8,629.9 494.7,632.6 496.5,631.5 498.3,634.9 500.1,632.1 501.9,632.2 503.8,633.9 505.6,636.4 507.4,636.3 509.2,636.2 511,633.4 512.9,636.4 514.7,638.9 516.5,636.2 518.3,637.4 520.1,639.5 521.9,638.5 523.8,635.8 525.6,640.5 527.4,639.1 529.2,638.9 531,642.6 532.9,638.1 534.7,641.3 536.5,640.9 538.3,642.4 540.1,641 542,644.1 543.8,643 545.6,642.2 547.4,644.9 549.2,644.3 551.1,644.1 552.9,645.9 554.7,647.2 556.5,648.7 558.3,649.8 560.2,644.9 562,646.8 563.8,647.5 565.6,649.2 567.4,648.7 569.2,650.2 571.1,648.8 572.9,651.1 574.7,649.5 576.5,653.1 578.3,651.6 580.2,650.9 582,649.5 583.8,649.6 585.6,651.6 587.4,653.5 589.3,654.5 591.1,652.9 592.9,654.5 594.7,652.8 596.5,653.2 598.4,657.1 600.2,658.3 602,657.4 603.8,657.1 605.6,657.6 607.5,659.9 609.3,657.7 611.1,658.4 612.9,658.9 614.7,657.1 616.5,659 618.4,656.6 620.2,660.9 622,659 623.8,661.3 625.6,658.9 627.5,662 629.3,660.4 631.1,664.1 632.9,664.2 634.7,664.2 636.6,662.4 638.4,661.3 640.2,663.1 642,666.7 643.8,666.1 645.7,665.5 647.5,663.9 649.3,667.7 651.1,666.4 652.9,664.4 654.7,668.4 656.6,667.7 658.4,668.3 660.2,670.1 662,666.9 663.8,665.8 665.7,670.8 667.5,672.3 669.3,671.7 671.1,671.5 672.9,669 674.8,667.3 676.6,674.2 678.4,673.5 680.2,674.7 682,670.1 683.9,673.1 685.7,671.6 687.5,671.6 689.3,673.3 691.1,673 693,675 694.8,672.8 696.6,675.5 698.4,677.2 700.2,676.4 702,671.6 703.9,679.8 705.7,674.6 707.5,683.6 709.3,676.7 711.1,674.9 713,678 714.8,679.7 716.6,679.8 718.4,682.4 720.2,682.3 722.1,683.1 723.9,680.1 725.7,682.7 727.5,680.9 729.3,680.9 731.2,679.1 733,684.1 734.8,684.7 736.6,682.8 738.4,680.8 740.3,683.3 742.1,681.7 743.9,686.3 745.7,682.2 747.5,681.2 749.3,683.7 751.2,688.5 753,683.6 754.8,690.5 756.6,687.1 758.4,689.8 760.3,685.6 762.1,689.2 763.9,686.3 765.7,685.4 767.5,691.2 769.4,694 771.2,687.1 773,693.1 774.8,687.9 776.6,698.3 778.5,686.9 780.3,692.8 782.1,693.8 783.9,690.8 785.7,695.4 787.6,695.7 789.4,688 791.2,692.9 793,693.1 794.8,690.8 796.6,697.4 798.5,695.9 800.3,694 802.1,699 803.9,691.9 805.7,697.4 807.6,692.3 809.4,701.6 811.2,696.9 813,689.4 814.8,700.9 816.7,689.9 818.5,697.3 820.3,693.8 822.1,696.8 823.9,699 825.8,698.9 827.6,704.6 829.4,704.7 831.2,703.7 833,701.9 834.9,695 836.7,699.6 838.5,702.2 840.3,704.8 842.1,704.3 843.9,699.7 845.8,702.8 847.6,701.3 849.4,702.5 851.2,700 853,707.4 854.9,703.4 856.7,702.5 858.5,706.9 860.3,706.6 862.1,710.1 864,707.4 865.8,708.6 867.6,699.5 869.4,706.5 871.2,707.3 873.1,709.2 874.9,712.4 876.7,705.1 878.5,706.9 880.3,709.3 882.1,707.6 884,710.9 885.8,712 887.6,710.8 889.4,705.1 891.2,713.8 893.1,713 894.9,709.9 896.7,710.9 898.5,713.5 900.3,713.8 902.2,716.9 904,709.6 905.8,711.1 907.6,708.9 909.4,714.2 911.3,706.3 913.1,713.6 914.9,717.1 916.7,707.4 918.5,707.3 920.4,714 922.2,723.8 924,713.6 925.8,707.1 927.6,714 929.4,718 931.3,719.2 933.1,711.3 934.9,716.6 936.7,707.7 938.5,712 940.4,714.5 942.2,720.5 944,719.5 945.8,713 947.6,717.6 949.5,717.7 951.3,714.2 953.1,717.8 954.9,737.3 956.7,717.3 958.6,719.6 960.4,713.4 962.2,716.2 964,725.5 965.8,719 967.7,724.5 969.5,719.3 971.3,721.8 973.1,721.3 974.9,726.5 976.7,722.5 978.6,726.9 980.4,721.8 982.2,712.6 984,727 985.8,723.2 987.7,717.6 989.5,724.8 991.3,727.5 993.1,725.6 994.9,714.1 996.8,727.1 998.6,721.7 1000.4,729.6 1002.2,723.2 1004,730.9 1005.9,727.4 1007.7,722.6 1009.5,722.9 1011.3,720.7 1013.1,723.3 1015,724.4 1016.8,730.7 1018.6,726.3 1020.4,723.7 1022.2,732.2 1024,738.6 1025.9,741.4 1027.7,716.3 1029.5,753.5 1031.3,728.5 1033.1,729.9 1035,733.5 1036.8,721 1038.6,728.7 1040.4,721.3 1042.2,718 1044.1,726.2 1045.9,718.6 1047.7,723.8 1049.5,731.3 1051.3,730.5 1053.2,729.3 1055,730.9 1056.8,734.1 1058.6,741.4 1060.4,736 1062.3,724.6 1064.1,727.9 1065.9,727.2 1067.7,725.5 1069.5,733.6 1071.3,729.6 1073.2,727.5 1075,727.1 1076.8,724.1 1078.6,731.4 1080.4,729.3 1082.3,731.9 1084.1,720.9 1085.9,738.1 1087.7,725.9 1089.5,735.8 1091.4,733.7 1093.2,742 1095,729 1096.8,720.8 1098.6,738.1 1100.5,734.5 1102.3,732.6 1104.1,723.4 1105.9,741.9 1107.7,726.7 1109.5,741.3 1111.4,736.8 1113.2,730.3 1115,732.6 1116.8,720.8 1118.6,746.4 1120.5,737.6 1122.3,743.4 1124.1,728.7 1125.9,726.8 1127.7,737.4 1129.6,736.1 1131.4,727.7 1133.2,738.5 1135,742.3 1136.8,732.5 1138.7,728.1 1140.5,723.6 1142.3,722.3 1144.1,729.8 1145.9,728.4 1147.8,737 1149.6,731.1 1151.4,742.1 1153.2,734 1155,744.7 1156.8,737.5 1158.7,748.5 1160.5,739.2 1162.3,720.7 1164.1,727.2 1165.9,733.3 1167.8,736.3 1169.6,741.8 1171.4,739.6 1173.2,726.2 1175,734 1176.9,735 1178.7,741.6 1180.5,743.1 1182.3,740.2 1184.1,731.3 1186,732.6 1187.8,741.9 1189.6,737.9 1191.4,748.1 1193.2,735.9 1195.1,743.8 1196.9,738.7 1198.7,727.5 1200.5,745 1202.3,741.5 1204.1,748.2 1206,737.8 1207.8,730.4 1209.6,744 1211.4,739.6 1213.2,743 1215.1,741.7 1216.9,732.6 1218.7,742.4 1220.5,748.6 1222.3,738.9 1224.2,727.2 1226,736.3 1227.8,736 1229.6,739.7 1231.4,731.7 1233.3,746.4 1235.1,725.9 1236.9,740 1238.7,745.5 1240.5,759.1 1242.4,738.5 1244.2,743.7 1246,729.5 1247.8,746.9 1249.6,743.4 1251.4,738.4 1253.3,743.3 1255.1,740.1 1256.9,731.4 1258.7,740.4 1260.5,743.6 1262.4,738.6 1264.2,744.2 1266,732.7 1267.8,744.5 1269.6,737.2 1271.5,740.4 1273.3,743.8 1275.1,736.1 1276.9,738.2 1278.7,738.1 1280.6,741.1 1282.4,745 1284.2,737 1286,737.5 1287.8,739.1 1289.7,738.1 1291.5,741.1 1293.3,734.3 1295.1,753.7 1296.9,739.4 1298.7,744.8 1300.6,740.9 1302.4,735.4 1304.2,732.5 1306,742.2 1307.8,751.6 1309.7,735.1 1311.5,745 1313.3,750.3 1315.1,738.5 1316.9,744.2 1318.8,730.1 1320.6,731.2 1322.4,745 1324.2,745 1326,740.4 1327.9,734 1329.7,738.3 1331.5,747.5 1333.3,735.5 1335.1,742.3 1336.9,740.6 1338.8,741.5 1340.6,741.6 1342.4,754.3 1344.2,742.3 1346,745.6 1347.9,732.5 1349.7,749.9 1351.5,740 1353.3,747.3 1355.1,744 1357,736.8 1358.8,748.6 1360.6,742.6 1362.4,742.2 1364.2,747.4 1366.1,753.2 1367.9,745.1 1369.7,734.5 1371.5,748.3 1373.3,746.9 1375.2,726 1377,742.8 1378.8,745.9 1380.6,735.7 1382.4,733.6 1384.2,727 1386.1,739.6 1387.9,754.1 1389.7,744.4 1391.5,748.2 1393.3,729 1395.2,741.6 1397,741.7 1398.8,741.5 1400.6,750.9 1402.4,747.1 1404.3,734.5 1406.1,743.4 1407.9,755.8 1409.7,737.8 1411.5,747.5 1413.4,736.6 1415.2,742.3 1417,743.9 1418.8,745.1 1420.6,744.7 1422.5,755.7 1424.3,743.2 1426.1,740.1 1427.9,743.3 1429.7,757.5 1431.5,733 1433.4,751.1 1435.2,732 1437,738.2 1438.8,740.1 1440.6,741.1 1442.5,742.3 1444.3,754 1446.1,736.9 1447.9,739.5 1449.7,736.5 1451.6,741 1453.4,738.9 1455.2,742 1457,744.5 1458.8,747.9 1460.7,734.6 1462.5,744.2 1464.3,736.5 1466.1,748.4 1467.9,755.8 1469.8,748 1471.6,752.2 1473.4,737.7 1475.2,747.1 1477,748.3 1478.8,744.6 1480.7,734.1 1482.5,745.8 1484.3,742.5 1486.1,748.7 1487.9,753.7 1489.8,749.8 1491.6,746.2 1493.4,750.2 1495.2,741.2 1497,756.9 1498.9,754.7 1500.7,737.1 1502.5,739.4 1504.3,740.7 1506.1,738.5 1508,747.2 1509.8,745.9 1511.6,737.3 1513.4,740.3 1515.2,747.5 1517.1,741.6 1518.9,743.2 1520.7,753.1 1522.5,740.4 1524.3,743.8 1526.1,743.1 1528,739.5 1529.8,743.7 1531.6,743.7 1533.4,748 1535.2,734.8 1537.1,736.7 1538.9,740.7 1540.7,745.5 1542.5,745.6 1544.3,733 1546.2,734.1 1548,735 1549.8,743.6 1551.6,750.7 1553.4,744.5 1555.3,756 1557.1,752.9 1558.9,747.1 1560.7,735.7 1562.5,747 1564.3,741.5 1566.2,740.6 1568,734.6 1569.8,734.3 1571.6,740.1 1573.4,744 1575.3,736.4 1577.1,750.8 1578.9,750.8 1580.7,756.3 1582.5,743.1 1584.4,740.8 1586.2,747.1 1588,746.4 1589.8,741.7 1591.6,748.6 1593.5,750.2 1595.3,733.9 1597.1,734 1598.9,740.5 1600.7,754.1 1602.6,739.1 1604.4,736.3 1606.2,745.7 1608,745.3 1609.8,731.1 1611.6,749.7 1613.5,743 1615.3,729.2 1617.1,750.2 1618.9,741.9 1620.7,742.2 1622.6,742.8 1624.4,754.2 1626.2,736.2 1628,743.9 1629.8,739.7 1631.7,739 1633.5,748.2 1635.3,737.9 1637.1,741.7 1638.9,742.1 1640.8,749.6 1642.6,754.8 1644.4,744.3 1646.2,744 1648,749.4 1649.9,746.3 1651.7,745 1653.5,752.4 1655.3,748.2 1657.1,753.1 1658.9,746.3 1660.8,746.7 1662.6,748.2 1664.4,744.7 1666.2,743.3 1668,729.3 1669.9,742 1671.7,736 1673.5,744.9 1675.3,738.3 1677.1,752.2 1679,740.1 1680.8,742.9 1682.6,747.8 1684.4,746.7 1686.2,734.3 1688.1,743.9 1689.9,745.9 1691.7,754.4 1693.5,740 1695.3,750.6 1697.2,741.3 1699,735.4 1700.8,746.1 1702.6,741.3 1704.4,733.7 1706.2,741.8 1708.1,746.4 1709.9,747.6 1711.7,751.4 1713.5,736.7 1715.3,731.8 1717.2,733.7 1719,735.2 1720.8,747.1 1722.6,745.8 1724.4,747.9 1726.3,733.8 1728.1,743.3 1729.9,745.6 1731.7,738.9 1733.5,750.5 1735.4,744.9 1737.2,757.2 1739,738.8 1740.8,736.1 1742.6,737.9 1744.5,742.4 1746.3,742.8 1748.1,733.5 1749.9,743.4 1751.7,728.3 1753.5,728.6 1755.4,751 1757.2,749.2 1759,747.2 1760.8,739.4 1762.6,751.9 1764.5,739.1 1766.3,745.1 1768.1,743.9 1769.9,757.4 1771.7,733.9 1773.6,739.8 1775.4,745.2 1777.2,745.6 1779,741 1780.8,745.7 1782.7,751.1 1784.5,736.2 1786.3,748 1788.1,723.4 1789.9,734 1791.7,740.1 1793.6,736.1 1795.4,743.8 1797.2,754.8 1799,740.9 1800.8,749.4 1802.7,731.8 1804.5,740.5 1806.3,742.9 1808.1,743.6 1809.9,732.5 1811.8,760.3 1813.6,745.3 1815.4,746.7 1817.2,747.9 1819,739.6 1820.9,750.1 1822.7,744.1 1824.5,750.9 1826.3,753.6 1828.1,739.6 1830,747 1831.8,744.8 1833.6,745.2 1835.4,741.2 1837.2,753 1839,748.1 1840.9,743.7 1842.7,741.3 1844.5,746.4 1846.3,748.5 1848.1,740.3 1850,739.2 1851.8,743.1 1853.6,755.9 1855.4,754.2 1857.2,738.3 1859.1,747.2 1860.9,744.8 1862.7,732.9 1864.5,743.1 1866.3,741.8 1868.2,750.4 1870,744.5 1871.8,743.1 1873.6,747.3 1875.4,753.7 1877.3,745.1 1879.1,751.5 1880.9,741.6 1882.7,750.4 1884.5,739.4 1886.3,735.7 1888.2,744.3 1890,751.3 1891.8,745.8 1893.6,754.6 1895.4,730.4 1897.3,744.7 1899.1,746.4 1900.9,733.6 1902.7,739.1 1904.5,754.1 1906.4,749 1908.2,733.1 1910,740.5 1911.8,746.9 1913.6,742.4 1915.5,748.3 1917.3,742.8 1919.1,738.6 1920.9,746.3 1922.7,734.8 1924.6,748.4 1926.4,759.4 1928.2,737.1 1930,744.3 1931.8,747.5 1933.6,741.7 1935.5,743.4 1937.3,744.4 1939.1,745.8 1940.9,750.1 1942.7,737.4 1944.6,729.2 1946.4,756.5 1948.2,738.3 1950,736.9 1951.8,746.3 1953.7,753.1 1955.5,744.4 1957.3,747.1 1959.1,749.9 1960.9,744.2 1962.8,738.6 1964.6,742.7 1966.4,732.6 1968.2,738.9 1970,748.2 1971.9,735.9 1973.7,744.8 1975.5,752.1 1977.3,746.3 1979.1,744.6 1980.9,739.2 1982.8,754.1 1984.6,743.5 1986.4,760.9 1988.2,746.2 1990,779.6 1991.9,763.9 1993.7,733.6"/></g>
<g clip-path="url(#c3)"><polyline fill="none" stroke="none" marker-start="url(#m3)" marker-mid="url(#m3)" marker-end="url(#m3)" points="176.3,803.4 178.1,803.6 179.9,802.9 181.8,802.5 183.6,802.4 185.4,806.1 187.2,805.2 189,804.6 190.9,805.6 192.7,805.8 194.5,806.4 196.3,806.9 198.1,806.9 199.9,807.1 201.8,807.2 203.6,808.5 205.4,809.2 207.2,811.1 209,809.9 210.9,811.7 212.7,808.6 214.5,809.8 216.3,811.7 218.1,812.4 220,812.2 221.8,811.7 223.6,813.3 225.4,812.7 227.2,816 229.1,815.7 230.9,815 232.7,812.3 234.5,816.3 236.3,816 238.2,817.2 240,817.2 241.8,817.1 243.6,819.6 245.4,817.9 247.2,817.9 249.1,818.6 250.9,818.5 252.7,821.8 254.5,819.6 256.3,821.7 258.2,822 260,822.7 261.8,823.9 263.6,824.1 265.4,822.4 267.3,823.3 269.1,822.9 270.9,821.7 272.7,827.1 274.5,823.6 276.4,826.9 278.2,823.5 280,826.3 281.8,828.6 283.6,826.4 285.5,828.3 287.3,827.3 289.1,829.5 290.9,830.1 292.7,829.9 294.5,828.7 296.4,828.8 298.2,831.5 300,831.3 301.8,831 303.6,832.3 305.5,830.1 307.3,831.8 309.1,830.9 310.9,831.4 312.7,832.6 314.6,832.1 316.4,833.3 318.2,835.3 320,835.2 321.8,833.4 323.7,834 325.5,836.4 327.3,837.2 329.1,836.2 330.9,838.8 332.8,838.2 334.6,841.2 336.4,840.1 338.2,839.6 340,840.3 341.8,839.5 343.7,841.2 345.5,842.1 347.3,842.3 349.1,843.8 350.9,843 352.8,842.2 354.6,844.7 356.4,841.8 358.2,843.1 360,845.2 361.9,845.6 363.7,844.7 365.5,844.6 367.3,843.5 369.1,845.7 371,846.6 372.8,845.9 374.6,847.4 376.4,847.4 378.2,848.8 380.1,851.4 381.9,849.8 383.7,851.8 385.5,850.3 387.3,850.5 389.1,852.2 391,853.1 392.8,852.5 394.6,852.6 396.4,853.5 398.2,852 400.1,853.3 401.9,853.6 403.7,855.3 405.5,852.9 407.3,856.1 409.2,857.2 411,855.8 412.8,856.1 414.6,857.6 416.4,857.3 418.3,856.9 420.1,859.1 421.9,860 423.7,858.5 425.5,859.4 427.3,859.9 429.2,860.2 431,860.3 432.8,863.5 434.6,861.8 436.4,860.8 438.3,863.6 440.1,862.1 441.9,861.2 443.7,862.3 445.5,864.6 447.4,864.9 449.2,865.3 451,864.3 452.8,865.5 454.6,864.4 456.5,864.9 458.3,869.8 460.1,866.8 461.9,867.1 463.7,867.8 465.6,869.4 467.4,870.7 469.2,868.5 471,869.9 472.8,871.4 474.6,870.5 476.5,870.9 478.3,869.8 480.1,871.3 481.9,870.4 483.7,874.7 485.6,873.4 487.4,870.4 489.2,872.1 491,871.1 492.8,875.3 494.7,873.6 496.5,875.1 498.3,874.7 500.1,876.2 501.9,876.5 503.8,875.8 505.6,877.7 507.4,876.1 509.2,879.8 511,880.8 512.9,879.4 514.7,879 516.5,880 518.3,877.5 520.1,880.6 521.9,882.3 523.8,883.4 525.6,882.6 527.4,881.4 529.2,883.6 531,882.3 532.9,881.6 534.7,885.4 536.5,884.9 538.3,886 540.1,884.1 542,884.1 543.8,888.2 545.6,887.5 547.4,886.2 549.2,885.7 551.1,886.5 552.9,888.6 554.7,884.7 556.5,887.8 558.3,887.3 560.2,886.7 562,888.5 563.8,888.7 565.6,890.4 567.4,891.6 569.2,890.6 571.1,890.1 572.9,893.6 574.7,892.7 576.5,894.8 578.3,891.6 580.2,893 582,894.2 583.8,894.3 585.6,892.3 587.4,896.6 589.3,897.8 591.1,896.2 592.9,895 594.7,898.9 596.5,896.1 598.4,898.9 600.2,897.8 602,896.6 603.8,896.8 605.6,899.5 607.5,900.2 609.3,903.2 611.1,902.3 612.9,901 614.7,900.8 616.5,898.7 618.4,902.6 620.2,899.5 622,901.4 623.8,902.1 625.6,901.9 627.5,906.8 629.3,904.1 631.1,908.8 632.9,904.5 634.7,906.7 636.6,905 638.4,906 640.2,903 642,908.8 643.8,907.7 645.7,908 647.5,911.1 649.3,907.9 651.1,911.2 652.9,906.1 654.7,908 656.6,910.4 658.4,909.3 660.2,909.5 662,908.1 663.8,915 665.7,914.9 667.5,909.9 669.3,914.7 671.1,912.3 672.9,914 674.8,913.7 676.6,912.6 678.4,912.8 680.2,908 682,914.7 683.9,915.9 685.7,914.7 687.5,916.7 689.3,917.3 691.1,916.4 693,917.1 694.8,917.8 696.6,920.9 698.4,917.8 700.2,918.6 702,918.8 703.9,917.1 705.7,920.2 707.5,922 709.3,916 711.1,920.3 713,920.9 714.8,920.9 716.6,922.9 718.4,922 720.2,924 722.1,921 723.9,920.3 725.7,927.2 727.5,920.6 729.3,920.7 731.2,924.6 733,917 734.8,924.5 736.6,922.5 738.4,926.9 740.3,929.1 742.1,931.3 743.9,927.7 745.7,922.7 747.5,927.8 749.3,924.7 751.2,928.8 753,926.4 754.8,932.9 756.6,928.9 758.4,929.2 760.3,925.6 762.1,926.1 763.9,929.3 765.7,934.3 767.5,931.7 769.4,931.5 771.2,931 773,931.6 774.8,935.9 776.6,928.6 778.5,935.6 780.3,935.5 782.1,937 783.9,928.1 785.7,934 787.6,931.1 789.4,930.9 791.2,933.3 793,942.4 794.8,932.7 796.6,939.4 798.5,932.9 800.3,942.1 802.1,936.2 803.9,932.7 805.7,944.2 807.6,934.6 809.4,936.2 811.2,940.3 813,937.4 814.8,941.2 816.7,938.8 818.5,941.1 820.3,940.1 822.1,936.7 823.9,940.7 825.8,940.3 827.6,937.9 829.4,949.9 831.2,949.5 833,933.2 834.9,949.7 836.7,941 838.5,936.8 840.3,935.3 842.1,945.8 843.9,946.8 845.8,937.9 847.6,941.3 849.4,942.2 851.2,943.3 853,948.1 854.9,941.9 856.7,945.1 858.5,945.3 860.3,946.9 862.1,946.2 864,952 865.8,946.3 867.6,941.5 869.4,948.5 871.2,938.3 873.1,949.3 874.9,948.4 876.7,947.8 878.5,945.4 880.3,950.5 882.1,949.8 884,945.8 885.8,943.8 887.6,958 889.4,946.7 891.2,949 893.1,950.7 894.9,951.5 896.7,951.9 898.5,954.1 900.3,951.4 902.2,941 904,951 905.8,953.4 907.6,965.1 909.4,954.5 911.3,959.7 913.1,947.3 914.9,952.4 916.7,948.6 918.5,951 920.4,958.4 922.2,959.6 924,952.9 925.8,945.4 927.6,954.8 929.4,962.2 931.3,952.2 933.1,950.4 934.9,959.3 936.7,958.4 938.5,951.7 940.4,954.2 942.2,962.5 944,959.8 945.8,958.8 947.6,964.6 949.5,960.7 951.3,959.2 953.1,958.5 954.9,951.9 956.7,965.1 958.6,968.1 960.4,959.8 962.2,956.3 964,951.7 965.8,957.8 967.7,958 969.5,962.6 971.3,959 973.1,950.9 974.9,956.6 976.7,959.1 978.6,961.1 980.4,952.4 982.2,967.6 984,956.9 985.8,960.2 987.7,959.7 989.5,962.5 991.3,957.3 993.1,969.3 994.9,962.9 996.8,963.7 998.6,962.6 1000.4,961.1 1002.2,960 1004,960.6 1005.9,959.2 1007.7,959.7 1009.5,961.7 1011.3,962.1 1013.1,958.8 1015,968 1016.8,962.4 1018.6,964.1 1020.4,974.3 1022.2,959.8 1024,965.1 1025.9,959.6 1027.7,967 1029.5,966.4 1031.3,964.5 1033.1,959.4 1035,966.2 1036.8,958 1038.6,963.4 1040.4,971.8 1042.2,972.2 1044.1,966.6 1045.9,967.8 1047.7,962.9 1049.5,962.6 1051.3,966.4 1053.2,970.6 1055,965.3 1056.8,966.5 1058.6,965.1 1060.4,963.5 1062.3,964.5 1064.1,977.6 1065.9,974.3 1067.7,965.6 1069.5,976.8 1071.3,968.7 1073.2,973.7 1075,980.6 1076.8,970.4 1078.6,972.6 1080.4,979.6 1082.3,956.8 1084.1,966.3 1085.9,960.9 1087.7,967.1 1089.5,967.3 1091.4,969.9 1093.2,968.6 1095,970 1096.8,981 1098.6,957 1100.5,977.7 1102.3,977.8 1104.1,962.9 1105.9,981.7 1107.7,966.9 1109.5,969.3 1111.4,981.7 1113.2,966.1 1115,970.4 1116.8,974.2 1118.6,971.2 1120.5,984.3 1122.3,970.1 1124.1,976.1 1125.9,967.7 1127.7,967.6 1129.6,977.7 1131.4,979.4 1133.2,975.5 1135,966.9 1136.8,959.4 1138.7,969.8 1140.5,971.2 1142.3,971.6 1144.1,962.4 1145.9,966.2 1147.8,972.4 1149.6,981.5 1151.4,959.1 1153.2,974.2 1155,977.1 1156.8,966.1 1158.7,982 1160.5,967 1162.3,973.9 1164.1,978.4 1165.9,970.9 1167.8,977.6 1169.6,981.8 1171.4,984.4 1173.2,985.5 1175,993 1176.9,966.1 1178.7,972.8 1180.5,976.9 1182.3,980 1184.1,963.4 1186,971 1187.8,972.6 1189.6,971.3 1191.4,978.2 1193.2,972 1195.1,963.9 1196.9,968.7 1198.7,980 1200.5,966.8 1202.3,974.7 1204.1,983.9 1206,979.3 1207.8,974.2 1209.6,976.4 1211.4,982.4 1213.2,976.5 1215.1,979.5 1216.9,962 1218.7,985.6 1220.5,973 1222.3,974.6 1224.2,972.7 1226,975.1 1227.8,986.6 1229.6,972.3 1231.4,978.2 1233.3,983.2 1235.1,983 1236.9,971.4 1238.7,987.6 1240.5,981.4 1242.4,986.4 1244.2,969 1246,964.3 1247.8,968.3 1249.6,976.2 1251.4,973.5 1253.3,981.1 1255.1,973.4 1256.9,979.2 1258.7,982.8 1260.5,972.1 1262.4,986 1264.2,968.2 1266,979.4 1267.8,982.2 1269.6,980.9 1271.5,964.6 1273.3,975.6 1275.1,968.3 1276.9,967.6 1278.7,971.3 1280.6,970.7 1282.4,977.7 1284.2,968.1 1286,976 1287.8,984.2 1289.7,968.8 1291.5,978.4 1293.3,987.6 1295.1,985 1296.9,974.8 1298.7,980.5 1300.6,980 1302.4,978.4 1304.2,981.6 1306,984.9 1307.8,992.2 1309.7,978.3 1311.5,979.4 1313.3,981.9 1315.1,975.3 1316.9,985.6 1318.8,984.6 1320.6,981.8 1322.4,977.5 1324.2,979.2 1326,977.5 1327.9,987.5 1329.7,975.5 1331.5,976 1333.3,984.5 1335.1,980 1336.9,984.7 1338.8,975.4 1340.6,974.4 1342.4,978.4 1344.2,983.1 1346,974.8 1347.9,971.8 1349.7,985.7 1351.5,974.1 1353.3,980.6 1355.1,979.4 1357,977.8 1358.8,985.8 1360.6,983.5 1362.4,984.1 1364.2,977.5 1366.1,984.2 1367.9,989.1 1369.7,967 1371.5,980.4 1373.3,983 1375.2,981 1377,993.3 1378.8,971 1380.6,978.3 1382.4,988.2 1384.2,978 1386.1,986.6 1387.9,991.9 1389.7,981.3 1391.5,981.8 1393.3,975.9 1395.2,977.8 1397,988.3 1398.8,980.4 1400.6,981.5 1402.4,969.3 1404.3,982.6 1406.1,961.2 1407.9,978.4 1409.7,978.3 1411.5,980.4 1413.4,987.5 1415.2,979.1 1417,990.8 1418.8,984 1420.6,969.8 1422.5,968.7 1424.3,975.8 1426.1,972.6 1427.9,981.7 1429.7,975 1431.5,975.1 1433.4,977.9 1435.2,975.9 1437,984.9 1438.8,977.6 1440.6,983.8 1442.5,995.6 1444.3,974.7 1446.1,977.8 1447.9,984.6 1449.7,983.6 1451.6,978.7 1453.4,986.9 1455.2,983.7 1457,969.3 1458.8,983.6 1460.7,970.6 1462.5,977 1464.3,990.8 1466.1,982.5 1467.9,965.7 1469.8,987.8 1471.6,981.4 1473.4,981.8 1475.2,975.7 1477,959 1478.8,972.2 1480.7,975.8 1482.5,983.9 1484.3,981.9 1486.1,977.2 1487.9,975 1489.8,966.4 1491.6,973.2 1493.4,988.6 1495.2,980.4 1497,982.3 1498.9,981.5 1500.7,971.9 1502.5,985.5 1504.3,990.5 1506.1,975.2 1508,985.3 1509.8,972.4 1511.6,984.3 1513.4,989.1 1515.2,986.1 1517.1,972.9 1518.9,971.6 1520.7,974.1 1522.5,976.1 1524.3,978.1 1526.1,1001.5 1528,981.3 1529.8,975.8 1531.6,972.9 1533.4,978.6 1535.2,978.3 1537.1,990.6 1538.9,988.5 1540.7,978.6 1542.5,976.1 1544.3,977 1546.2,971.3 1548,977.8 1549.8,975.4 1551.6,982.8 1553.4,981.7 1555.3,998.8 1557.1,981.9 1558.9,973.3 1560.7,972.5 1562.5,981.1 1564.3,982.3 1566.2,977.3 1568,977.2 1569.8,986.4 1571.6,985.4 1573.4,979.7 1575.3,979 1577.1,973.4 1578.9,990.2 1580.7,976.5 1582.5,984.4 1584.4,968.3 1586.2,975.2 1588,986.1 1589.8,982.6 1591.6,976.8 1593.5,983.2 1595.3,973.2 1597.1,983.3 1598.9,987.6 1600.7,974.4 1602.6,970.8 1604.4,983.9 1606.2,984.3 1608,985.7 1609.8,987.6 1611.6,992.1 1613.5,974.5 1615.3,971.3 1617.1,985.2 1618.9,985.8 1620.7,977.9 1622.6,989.5 1624.4,987.8 1626.2,977.4 1628,977.2 1629.8,986.8 1631.7,976.1 1633.5,973.9 1635.3,979.6 1637.1,979.1 1638.9,996.2 1640.8,985.2 1642.6,989.6 1644.4,992.8 1646.2,976.9 1648,981.3 1649.9,1000 1651.7,989.2 1653.5,980.3 1655.3,989.2 1657.1,980.4 1658.9,982.4 1660.8,983.6 1662.6,982.2 1664.4,981.6 1666.2,990.6 1668,998.6 1669.9,979.4 1671.7,992.3 1673.5,975.8 1675.3,974.3 1677.1,980.9 1679,978.1 1680.8,982.2 1682.6,992.5 1684.4,976.5 1686.2,984.2 1688.1,985.8 1689.9,978.5 1691.7,981.9 1693.5,974.9 1695.3,985 1697.2,986.2 1699,990.6 1700.8,978.3 1702.6,984.1 1704.4,982.3 1706.2,974.6 1708.1,982.8 1709.9,979.1 1711.7,974 1713.5,975.9 1715.3,974.2 1717.2,983 1719,974.9 1720.8,993.9 1722.6,974.1 1724.4,969.2 1726.3,988.9 1728.1,982.4 1729.9,980.6 1731.7,977.5 1733.5,981.3 1735.4,991.2 1737.2,991.4 1739,975.9 1740.8,977.2 1742.6,979.3 1744.5,992.5 1746.3,979.5 1748.1,984.8 1749.9,978.9 1751.7,981.2 1753.5,979.6 1755.4,993 1757.2,990.4 1759,982.6 1760.8,988 1762.6,973.6 1764.5,981.2 1766.3,977.2 1768.1,982.8 1769.9,963 1771.7,979.8 1773.6,990.4 1775.4,985.7 1777.2,982.1 1779,974.7 1780.8,983.3 1782.7,979.5 1784.5,983.8 1786.3,976.3 1788.1,983.5 1789.9,992.7 1791.7,978.5 1793.6,993.2 1795.4,997.9 1797.2,978.9 1799,972.3 1800.8,968.1 1802.7,989.2 1804.5,974.5 1806.3,984.5 1808.1,989.1 1809.9,978.2 1811.8,987.4 1813.6,967 1815.4,989.1 1817.2,970.8 1819,964.1 1820.9,975.7 1822.7,978.8 1824.5,977.5 1826.3,978.7 1828.1,986.2 1830,971.8 1831.8,977.5 1833.6,976 1835.4,977.5 1837.2,981.9 1839,985.6 1840.9,979.8 1842.7,983.4 1844.5,982 1846.3,977.8 1848.1,975.1 1850,981.8 1851.8,991 1853.6,976.1 1855.4,994.8 1857.2,986.4 1859.1,980.9 1860.9,977.4 1862.7,980.7 1864.5,984.2 1866.3,982.6 1868.2,976.2 1870,976.8 1871.8,981 1873.6,978.1 1875.4,987.3 1877.3,991.7 1879.1,972.6 1880.9,982.3 1882.7,976 1884.5,983.3 1886.3,981.9 1888.2,983 1890,990.1 1891.8,981.3 1893.6,993.5 1895.4,984.8 1897.3,984.9 1899.1,977.4 1900.9,977.9 1902.7,998.4 1904.5,972.1 1906.4,986.5 1908.2,980.5 1910,977.7 1911.8,981 1913.6,978.4 1915.5,985.3 1917.3,968.2 1919.1,988.2 1920.9,980.3 1922.7,999.1 1924.6,969.8 1926.4,992.3 1928.2,981.2 1930,982.9 1931.8,986.8 1933.6,985.2 1935.5,975.2 1937.3,975.5 1939.1,987 1940.9,974.5 1942.7,959.5 1944.6,988 1946.4,972.3 1948.2,989.7 1950,987 1951.8,982.2 1953.7,983.8 1955.5,995.7 1957.3,973.6 1959.1,986.8 1960.9,978.4 1962.8,971.2 1964.6,988.3 1966.4,975.2 1968.2,978.8 1970,968.5 1971.9,986.2 1973.7,985 1975.5,978.3 1977.3,978.8 1979.1,980.4 1980.9,971.3 1982.8,985.3 1984.6,976.1 1986.4,981.7 1988.2,983.6 1990,981.9 1991.9,971.5 1993.7,979.9"/></g>
<g clip-path="url(#c4)"><polyline fill="none" stroke="none" marker-start="url(#m4)" marker-mid="url(#m4)" marker-end="url(#m4)" points="176.3,1048.8 178.1,1045.8 179.9,1046.7 181.8,1046.9 183.6,1046.8 185.4,1045.7 187.2,1048.3 189,1048.6 190.9,1049.2 192.7,1049.6 194.5,1049.7 196.3,1050.1 198.1,1050.9 199.9,1049.6 201.8,1050.5 203.6,1051.3 205.4,1052.3 207.2,1053 209,1053.2 210.9,1053.4 212.7,1053.6 214.5,1054.4 216.3,1056.2 218.1,1056.7 220,1054.8 221.8,1056.4 223.6,1056.6 225.4,1056.5 227.2,1057.2 229.1,1059.1 230.9,1057.5 232.7,1059.6 234.5,1058.7 236.3,1059.2 238.2,1059.7 240,1059.6 241.8,1059 243.6,1061.6 245.4,1060.8 247.2,1064.7 249.1,1061.2 250.9,1063.6 252.7,1065 254.5,1062.3 256.3,1064.9 258.2,1064.8 260,1066 261.8,1065.4 263.6,1064.7 265.4,1067.4 267.3,1065.6 269.1,1066.1 270.9,1067.6 272.7,1066.7 274.5,1068 276.4,1070.6 278.2,1068.5 280,1069.7 281.8,1069.5 283.6,1071.4 285.5,1069.7 287.3,1072.5 289.1,1072 290.9,1071.7 292.7,1073.1 294.5,1073.1 296.4,1073.3 298.2,1071.5 300,1073.2 301.8,1074.9 303.6,1074.4 305.5,1076.3 307.3,1078.9 309.1,1074.4 310.9,1074.5 312.7,1079.2 314.6,1078.8 316.4,1079.9 318.2,1080.9 320,1080.1 321.8,1079.5 323.7,1080.3 325.5,1078.8 327.3,1079.5 329.1,1080.3 330.9,1081 332.8,1083.3 334.6,1082.4 336.4,1082.7 338.2,1084.2 340,1082 341.8,1084.9 343.7,1083.9 345.5,1086.3 347.3,1083.8 349.1,1086.1 350.9,1087.4 352.8,1086.2 354.6,1087.9 356.4,1087.3 358.2,1088.7 360,1089.6 361.9,1090.1 363.7,1089.6 365.5,1089 367.3,1089.9 369.1,1090.8 371,1092 372.8,1092.4 374.6,1089.7 376.4,1093.4 378.2,1092.9 380.1,1094.8 381.9,1093.4 383.7,1092.5 385.5,1094 387.3,1095.4 389.1,1095.9 391,1095.2 392.8,1096.2 394.6,1096.2 396.4,1096.8 398.2,1095.6 400.1,1096.4 401.9,1096.7 403.7,1099.8 405.5,1099.8 407.3,1098.6 409.2,1100.5 411,1100.9 412.8,1098.9 414.6,1099.6 416.4,1102.5 418.3,1104.9 420.1,1104.7 421.9,1103 423.7,1099.7 425.5,1101.6 427.3,1104.1 429.2,1101.9 431,1106.7 432.8,1104.2 434.6,1105.9 436.4,1107.4 438.3,1105.8 440.1,1106.8 441.9,1108.2 443.7,1107.3 445.5,1108.8 447.4,1109.3 449.2,1109.5 451,1109.9 452.8,1110.8 454.6,1110 456.5,1111.2 458.3,1111.5 460.1,1111.4 461.9,1111.3 463.7,1113.1 465.6,1111.7 467.4,1113.1 469.2,1114.1 471,1112.8 472.8,1112.9 474.6,1114.7 476.5,1116 478.3,1116.4 480.1,1116.3 481.9,1116.2 483.7,1116.9 485.6,1119.1 487.4,1118.7 489.2,1115 491,1120.2 492.8,1118.8 494.7,1121.2 496.5,1120.7 498.3,1121.6 500.1,1120.6 501.9,1122 503.8,1121.5 505.6,1121.8 507.4,1122 509.2,1121.4 511,1122.9 512.9,1121.5 514.7,1124.4 516.5,1125.1 518.3,1128.1 520.1,1123.7 521.9,1126.7 523.8,1127.4 525.6,1125.3 527.4,1127.2 529.2,1127.4 531,1126.8 532.9,1127.7 534.7,1127.8 536.5,1128.9 538.3,1129.4 540.1,1132.8 542,1133 543.8,1130.4 545.6,1127.2 547.4,1131.4 549.2,1131.1 551.1,1132.7 552.9,1131.2 554.7,1134.2 556.5,1135.3 558.3,1134.7 560.2,1134.7 562,1133.9 563.8,1132.6 565.6,1135.6 567.4,1132.7 569.2,1135.8 571.1,1136.2 572.9,1135.3 574.7,1136.9 576.5,1135.7 578.3,1136.6 580.2,1135.8 582,1140.6 583.8,1139.6 585.6,1140.4 587.4,1137.1 589.3,1137.5 591.1,1141.9 592.9,1143.1 594.7,1141.6 596.5,1140.3 598.4,1143.8 600.2,1140.9 602,1142.1 603.8,1143.2 605.6,1141.9 607.5,1144.2 609.3,1146.7 611.1,1144.6 612.9,1144.6 614.7,1142.8 616.5,1147.1 618.4,1145.9 620.2,1147.7 622,1150.3 623.8,1147.6 625.6,1149.2 627.5,1150.5 629.3,1149.5 631.1,1148 632.9,1149.5 634.7,1150.9 636.6,1150 638.4,1150.4 640.2,1152.2 642,1149 643.8,1155 645.7,1153.1 647.5,1152.1 649.3,1152.9 651.1,1153.8 652.9,1152.1 654.7,1152.2 656.6,1154.3 658.4,1152.8 660.2,1156.2 662,1157 663.8,1157.7 665.7,1155.8 667.5,1156.8 669.3,1154.1 671.1,1158.5 672.9,1155.7 674.8,1155.8 676.6,1161.4 678.4,1157.5 680.2,1163.4 682,1158.4 683.9,1159 685.7,1162.1 687.5,1162.6 689.3,1160.7 691.1,1162.9 693,1162.8 694.8,1162.7 696.6,1167.7 698.4,1160.3 700.2,1163 702,1161.9 703.9,1168 705.7,1165.4 707.5,1160.9 709.3,1167.2 711.1,1162.9 713,1166.4 714.8,1168 716.6,1169.6 718.4,1166.7 720.2,1167.4 722.1,1161.3 723.9,1170.5 725.7,1169 727.5,1171.4 729.3,1166 731.2,1167.4 733,1173.7 734.8,1174.5 736.6,1170.2 738.4,1175.3 740.3,1167.6 742.1,1171 743.9,1173.5 745.7,1173.9 747.5,1172.1 749.3,1174.3 751.2,1175.3 753,1174.2 754.8,1173.8 756.6,1173.7 758.4,1171.5 760.3,1172.3 762.1,1179.1 763.9,1178.1 765.7,1174.2 767.5,1172.7 769.4,1179.3 771.2,1174.7 773,1178.9 774.8,1180.4 776.6,1175.8 778.5,1179.5 780.3,1178.5 782.1,1178.5 783.9,1179.1 785.7,1179 787.6,1179.2 789.4,1180.8 791.2,1178.6 793,1181.6 794.8,1179.5 796.6,1178.8 798.5,1181.2 800.3,1180.2 802.1,1183.7 803.9,1183.8 805.7,1179.8 807.6,1181.5 809.4,1184.9 811.2,1183.2 813,1188 814.8,1180.4 816.7,1185.3 818.5,1184.3 820.3,1184.8 822.1,1184.8 823.9,1187.4 825.8,1185.5 827.6,1184 829.4,1188.1 831.2,1189.9 833,1189.2 834.9,1186.2 836.7,1187.1 838.5,1189 840.3,1189 842.1,1185.7 843.9,1194.8 845.8,1191.2 847.6,1192.7 849.4,1186.7 851.2,1189.8 853,1193 854.9,1189.2 856.7,1186.2 858.5,1199.4 860.3,1196.2 862.1,1194.5 864,1189 865.8,1189.1 867.6,1189.3 869.4,1192.5 871.2,1193.4 873.1,1197.9 874.9,1190.2 876.7,1197.3 878.5,1194.2 880.3,1189.8 882.1,1193.5 884,1194.6 885.8,1191.9 887.6,1196.8 889.4,1194.8 891.2,1199.2 893.1,1192.5 894.9,1199.4 896.7,1195 898.5,1191.7 900.3,1196.7 902.2,1196.7 904,1201.7 905.8,1193.5 907.6,1199.9 909.4,1206.3 911.3,1200 913.1,1197.1 914.9,1200.4 916.7,1200.1 918.5,1200.6 920.4,1196.1 922.2,1195.2 924,1190.7 925.8,1196 927.6,1201 929.4,1200.3 931.3,1197 933.1,1200.5 934.9,1196.1 936.7,1205.6 938.5,1204.5 940.4,1206.1 942.2,1200.6 944,1197.9 945.8,1205.4 947.6,1201.8 949.5,1201.8 951.3,1200.7 953.1,1208.3 954.9,1201.5 956.7,1204.4 958.6,1202 960.4,1203.8 962.2,1210.2 964,1203.3 965.8,1202.4 967.7,1204.8 969.5,1207.6 971.3,1204.4 973.1,1208.3 974.9,1208.3 976.7,1205.5 978.6,1208.2 980.4,1208.9 982.2,1205.4 984,1205.9 985.8,1205.4 987.7,1213.3 989.5,1203.1 991.3,1206.1 993.1,1205.1 994.9,1210.7 996.8,1212.7 998.6,1213.7 1000.4,1205.2 1002.2,1210.2 1004,1206.8 1005.9,1204.8 1007.7,1209 1009.5,1209 1011.3,1211.9 1013.1,1218.4 1015,1214.5 1016.8,1212.8 1018.6,1207.1 1020.4,1211.1 1022.2,1210.1 1024,1203 1025.9,1210.7 1027.7,1217.1 1029.5,1209.6 1031.3,1210.1 1033.1,1213.9 1035,1212.8 1036.8,1210.8 1038.6,1214.2 1040.4,1214.8 1042.2,1215.1 1044.1,1204 1045.9,1211.3 1047.7,1209.1 1049.5,1202.7 1051.3,1212 1053.2,1224.9 1055,1218.1 1056.8,1214.6 1058.6,1214.1 1060.4,1210.4 1062.3,1212.1 1064.1,1213 1065.9,1205.4 1067.7,1206.8 1069.5,1220.5 1071.3,1221.6 1073.2,1219.3 1075,1212.7 1076.8,1220.4 1078.6,1210 1080.4,1212.1 1082.3,1217.2 1084.1,1214.4 1085.9,1208.3 1087.7,1211.8 1089.5,1208.5 1091.4,1211.6 1093.2,1210.8 1095,1216.3 1096.8,1222.2 1098.6,1218.3 1100.5,1212.8 1102.3,1219.9 1104.1,1217.4 1105.9,1215.3 1107.7,1218.3 1109.5,1207.9 1111.4,1220 1113.2,1211.6 1115,1205.4 1116.8,1217.8 1118.6,1223.1 1120.5,1221.9 1122.3,1218.4 1124.1,1209.3 1125.9,1225.4 1127.7,1219.9 1129.6,1226.9 1131.4,1220.4 1133.2,1213.3 1135,1220.1 1136.8,1224.7 1138.7,1200.7 1140.5,1211.6 1142.3,1220.1 1144.1,1216.7 1145.9,1216.4 1147.8,1220.7 1149.6,1214.3 1151.4,1219.7 1153.2,1213.7 1155,1217.7 1156.8,1213.8 1158.7,1216.1 1160.5,1223.4 1162.3,1221.2 1164.1,1228.2 1165.9,1223.6 1167.8,1224.9 1169.6,1222.9 1171.4,1224.3 1173.2,1217.8 1175,1222.1 1176.9,1226.8 1178.7,1214.8 1180.5,1213.9 1182.3,1217.3 1184.1,1218.7 1186,1226.1 1187.8,1220.4 1189.6,1221.3 1191.4,1226.1 1193.2,1216.7 1195.1,1222.7 1196.9,1216.5 1198.7,1212.5 1200.5,1212.2 1202.3,1212.8 1204.1,1221.1 1206,1219.5 1207.8,1226.4 1209.6,1214.3 1211.4,1215.6 1213.2,1216.2 1215.1,1213.2 1216.9,1222.4 1218.7,1217 1220.5,1223.2 1222.3,1220.8 1224.2,1215.4 1226,1225.5 1227.8,1214.6 1229.6,1221.6 1231.4,1225.7 1233.3,1219.2 1235.1,1233.6 1236.9,1228.9 1238.7,1223.3 1240.5,1220.7 1242.4,1221.8 1244.2,1219.2 1246,1222.1 1247.8,1225.4 1249.6,1220.2 1251.4,1218.9 1253.3,1225.2 1255.1,1222.7 1256.9,1218.7 1258.7,1225.6 1260.5,1221.1 1262.4,1230.9 1264.2,1222.6 1266,1216.5 1267.8,1222 1269.6,1221.5 1271.5,1217.1 1273.3,1224.6 1275.1,1213.5 1276.9,1221.1 1278.7,1217.1 1280.6,1238.3 1282.4,1221.5 1284.2,1219.5 1286,1225.2 1287.8,1209.8 1289.7,1237.2 1291.5,1222 1293.3,1224.2 1295.1,1216.4 1296.9,1227.1 1298.7,1219.8 1300.6,1222.1 1302.4,1218 1304.2,1218.3 1306,1230.2 1307.8,1214.8 1309.7,1228.9 1311.5,1220.6 1313.3,1226.4 1315.1,1217.1 1316.9,1220.2 1318.8,1223.4 1320.6,1216.6 1322.4,1228.5 1324.2,1232.5 1326,1222.9 1327.9,1222.7 1329.7,1227.3 1331.5,1219.4 1333.3,1231.8 1335.1,1222.1 1336.9,1226.4 1338.8,1228.1 1340.6,1223.5 1342.4,1221.8 1344.2,1226.4 1346,1229.3 1347.9,1224.3 1349.7,1219.3 1351.5,1224.5 1353.3,1226.3 1355.1,1231.2 1357,1218.7 1358.8,1228.8 1360.6,1215.5 1362.4,1218 1364.2,1217.6 1366.1,1230.9 1367.9,1231.8 1369.7,1228.5 1371.5,1232.5 1373.3,1222.5 1375.2,1221.5 1377,1226.5 1378.8,1225 1380.6,1226.7 1382.4,1223.1 1384.2,1223.2 1386.1,1224.5 1387.9,1226.2 1389.7,1228.5 1391.5,1220.5 1393.3,1216.9 1395.2,1225.5 1397,1223.5 1398.8,1233.9 1400.6,1228 1402.4,1228.6 1404.3,1217.3 1406.1,1231.7 1407.9,1223.6 1409.7,1227.4 1411.5,1213.5 1413.4,1218.3 1415.2,1222 1417,1233.9 1418.8,1219 1420.6,1231.2 1422.5,1214.8 1424.3,1222.2 1426.1,1217.7 1427.9,1233.9 1429.7,1232.2 1431.5,1237.8 1433.4,1222.6 1435.2,1233.6 1437,1220.3 1438.8,1220.1 1440.6,1226.4 1442.5,1224.5 1444.3,1210.7 1446.1,1235.3 1447.9,1229.5 1449.7,1223.4 1451.6,1225.2 1453.4,1221.7 1455.2,1229 1457,1227.9 1458.8,1220.9 1460.7,1224.5 1462.5,1225 1464.3,1216.3 1466.1,1229.8 1467.9,1217.8 1469.8,1222.9 1471.6,1235.6 1473.4,1227.4 1475.2,1228.6 1477,1229.1 1478.8,1220.6 1480.7,1216.7 1482.5,1225.7 1484.3,1216 1486.1,1230.7 1487.9,1231.1 1489.8,1233.1 1491.6,1223.3 1493.4,1228.3 1495.2,1222.4 1497,1230.5 1498.9,1228.2 1500.7,1222.2 1502.5,1226.4 1504.3,1227.9 1506.1,1229.3 1508,1231.1 1509.8,1227.4 1511.6,1229.3 1513.4,1225.8 1515.2,1223.5 1517.1,1222.4 1518.9,1227.1 1520.7,1229 1522.5,1220.7 1524.3,1233.9 1526.1,1233.7 1528,1227.7 1529.8,1223 1531.6,1228.6 1533.4,1225.6 1535.2,1218.6 1537.1,1226.7 1538.9,1226.9 1540.7,1223.5 1542.5,1227.8 1544.3,1218.4 1546.2,1226.7 1548,1240.4 1549.8,1227.5 1551.6,1234.4 1553.4,1235.9 1555.3,1229.5 1557.1,1237.3 1558.9,1223.3 1560.7,1220.6 1562.5,1234.4 1564.3,1218.3 1566.2,1214.7 1568,1228.8 1569.8,1232.4 1571.6,1237.7 1573.4,1229 1575.3,1228 1577.1,1222.5 1578.9,1215.2 1580.7,1216.5 1582.5,1219.2 1584.4,1221.5 1586.2,1229.2 1588,1230.2 1589.8,1224 1591.6,1223 1593.5,1232.2 1595.3,1229.9 1597.1,1228.7 1598.9,1231.8 1600.7,1225 1602.6,1222.3 1604.4,1241.4 1606.2,1223.8 1608,1218.3 1609.8,1227.3 1611.6,1228.8 1613.5,1230 1615.3,1234.2 1617.1,1226.3 1618.9,1226.9 1620.7,1222.6 1622.6,1218.5 1624.4,1228.1 1626.2,1217.9 1628,1226.7 1629.8,1221.4 1631.7,1231.4 1633.5,1231 1635.3,1219.1 1637.1,1223.2 1638.9,1230.4 1640.8,1223.1 1642.6,1221.8 1644.4,1237.9 1646.2,1225.4 1648,1229.6 1649.9,1230 1651.7,1219.8 1653.5,1227.9 1655.3,1222.6 1657.1,1227.4 1658.9,1226.3 1660.8,1216.9 1662.6,1224.3 1664.4,1225.4 1666.2,1231.2 1668,1224.7 1669.9,1223.1 1671.7,1235.8 1673.5,1233.1 1675.3,1219.1 1677.1,1227.6 1679,1232.7 1680.8,1227.9 1682.6,1225.7 1684.4,1215.1 1686.2,1231.3 1688.1,1218.3 1689.9,1218 1691.7,1228.3 1693.5,1216.9 1695.3,1218.6 1697.2,1221.2 1699,1224.8 1700.8,1221.4 1702.6,1220.2 1704.4,1244.4 1706.2,1220.4 1708.1,1223.4 1709.9,1222.9 1711.7,1223.5 1713.5,1224.9 1715.3,1230 1717.2,1233.8 1719,1221.5 1720.8,1215 1722.6,1224.6 1724.4,1232.9 1726.3,1228.8 1728.1,1224.4 1729.9,1221.2 1731.7,1232.6 1733.5,1218.1 1735.4,1235.1 1737.2,1232.9 1739,1229.9 1740.8,1232.2 1742.6,1225.9 1744.5,1227.9 1746.3,1233 1748.1,1224.9 1749.9,1218.2 1751.7,1228 1753.5,1219.4 1755.4,1226.2 1757.2,1231.1 1759,1220.4 1760.8,1225.4 1762.6,1223.6 1764.5,1233 1766.3,1238.4 1768.1,1219.4 1769.9,1227.6 1771.7,1232 1773.6,1221 1775.4,1225.2 1777.2,1219 1779,1223.9 1780.8,1223.7 1782.7,1235.8 1784.5,1230.9 1786.3,1219 1788.1,1224.7 1789.9,1233.3 1791.7,1219.7 1793.6,1229.2 1795.4,1229.3 1797.2,1229.8 1799,1223.8 1800.8,1222.1 1802.7,1225 1804.5,1234.7 1806.3,1221.5 1808.1,1226.3 1809.9,1222.7 1811.8,1221.1 1813.6,1222.2 1815.4,1224.6 1817.2,1236.1 1819,1242.5 1820.9,1225.5 1822.7,1241.2 1824.5,1227.9 1826.3,1223.3 1828.1,1236.5 1830,1229.1 1831.8,1233.9 1833.6,1225.9 1835.4,1221.9 1837.2,1229.5 1839,1221.5 1840.9,1221.8 1842.7,1222.7 1844.5,1229 1846.3,1227.3 1848.1,1232.3 1850,1226.6 1851.8,1218 1853.6,1227.8 1855.4,1237.2 1857.2,1238 1859.1,1235.5 1860.9,1229.2 1862.7,1222.6 1864.5,1221.4 1866.3,1228.1 1868.2,1219.1 1870,1220.6 1871.8,1224.1 1873.6,1235.9 1875.4,1230.6 1877.3,1228.6 1879.1,1234.6 1880.9,1222.4 1882.7,1213 1884.5,1226.8 1886.3,1229.2 1888.2,1218.7 1890,1221.5 1891.8,1225.7 1893.6,1225.5 1895.4,1229.1 1897.3,1231.9 1899.1,1233 1900.9,1220.2 1902.7,1221.1 1904.5,1225.7 1906.4,1215.8 1908.2,1223.9 1910,1240.9 1911.8,1232.9 1913.6,1212.6 1915.5,1216.5 1917.3,1225.8 1919.1,1235.7 1920.9,1233.2 1922.7,1225.3 1924.6,1230.3 1926.4,1226.5 1928.2,1218.9 1930,1230.5 1931.8,1225.8 1933.6,1234.3 1935.5,1226.7 1937.3,1223.1 1939.1,1230.9 1940.9,1227.1 1942.7,1224 1944.6,1227.9 1946.4,1221.5 1948.2,1224.6 1950,1227.5 1951.8,1232.2 1953.7,1216.3 1955.5,1232.3 1957.3,1229.4 1959.1,1229.6 1960.9,1226.6 1962.8,1236.7 1964.6,1228.7 1966.4,1217.4 1968.2,1227 1970,1231.3 1971.9,1220 1973.7,1230.5 1975.5,1227.1 1977.3,1232.3 1979.1,1224.3 1980.9,1224.6 1982.8,1230.5 1984.6,1225.6 1986.4,1235.2 1988.2,1225.2 1990,1220.8 1991.9,1236.2 1993.7,1223.7"/></g>
<g clip-path="url(#c5)"><polyline fill="none" stroke="none" marker-start="url(#m5)" marker-mid="url(#m5)" marker-end="url(#m5)" points="176.3,1289.5 178.1,1289.1 179.9,1289.4 181.8,1290.2 183.6,1289.2 185.4,1289.7 187.2,1289.6 189,1290.5 190.9,1291.1 192.7,1291.6 194.5,1293.1 196.3,1292.3 198.1,1292.7 199.9,1293.1 201.8,1294.6 203.6,1293.7 205.4,1294.1 207.2,1293.2 209,1296.2 210.9,1295.1 212.7,1295.4 214.5,1295.9 216.3,1296.9 218.1,1296.6 220,1296.3 221.8,1300 223.6,1298.1 225.4,1299.6 227.2,1298.7 229.1,1300.1 230.9,1299.9 232.7,1300.6 234.5,1302.3 236.3,1302 238.2,1301.9 240,1302.5 241.8,1299.7 243.6,1305.1 245.4,1304 247.2,1306.6 249.1,1303.2 250.9,1306 252.7,1305.2 254.5,1304.6 256.3,1307.2 258.2,1304.8 260,1307.7 261.8,1308.8 263.6,1309.3 265.4,1308.1 267.3,1307.8 269.1,1309.4 270.9,1308.6 272.7,1310.6 274.5,1310.7 276.4,1311.6 278.2,1311.8 280,1312.7 281.8,1312.5 283.6,1314.5 285.5,1312.6 287.3,1315.1 289.1,1316.1 290.9,1313.5 292.7,1314.2 294.5,1312.9 296.4,1313.3 298.2,1314.4 300,1317.6 301.8,1318.9 303.6,1316.9 305.5,1316.5 307.3,1317.1 309.1,1319.5 310.9,1320.9 312.7,1319.5 314.6,1317.3 316.4,1320.6 318.2,1321.1 320,1320.6 321.8,1321.8 323.7,1321.6 325.5,1323.1 327.3,1322.6 329.1,1324.5 330.9,1323.5 332.8,1324.3 334.6,1325.4 336.4,1325.2 338.2,1325 340,1327.8 341.8,1327.9 343.7,1325.8 345.5,1326.1 347.3,1328 349.1,1326.7 350.9,1327.7 352.8,1329.9 354.6,1329.6 356.4,1329.7 358.2,1329.1 360,1332.1 361.9,1332 363.7,1332.4 365.5,1332.5 367.3,1333 369.1,1332.7 371,1331.5 372.8,1333.4 374.6,1335.2 376.4,1334.6 378.2,1335.3 380.1,1337.7 381.9,1334.7 383.7,1337 385.5,1336.5 387.3,1338.6 389.1,1338.8 391,1336.2 392.8,1337.2 394.6,1336.2 396.4,1340.6 398.2,1337.8 400.1,1339.1 401.9,1340.2 403.7,1341.6 405.5,1340.7 407.3,1339.9 409.2,1343.1 411,1341.9 412.8,1343 414.6,1344.4 416.4,1344.1 418.3,1344.9 420.1,1345.6 421.9,1347.4 423.7,1347.1 425.5,1344.9 427.3,1349.2 429.2,1347 431,1347.9 432.8,1347.1 434.6,1347.2 436.4,1349.1 438.3,1347.5 440.1,1348.9 441.9,1348.9 443.7,1348.5 445.5,1352.5 447.4,1350.8 449.2,1350.6 451,1353.3 452.8,1351 454.6,1354 456.5,1351 458.3,1353.7 460.1,1352.9 461.9,1352.9 463.7,1354.7 465.6,1356.2 467.4,1356.1 469.2,1355.8 471,1357.3 472.8,1356.8 474.6,1357.8 476.5,1357.7 478.3,1358.3 480.1,1357.5 481.9,1358.6 483.7,1358.7 485.6,1362.3 487.4,1359.5 489.2,1358.2 491,1361 492.8,1362.2 494.7,1361.7 496.5,1361.6 498.3,1362.8 500.1,1363.8 501.9,1364.4 503.8,1361.5 505.6,1364.2 507.4,1365.3 509.2,1363.1 511,1365.7 512.9,1366.8 514.7,1366.5 516.5,1367.7 518.3,1365.4 520.1,1366.8 521.9,1365.9 523.8,1370.6 525.6,1367.9 527.4,1369.9 529.2,1368.7 531,1371.6 532.9,1370.2 534.7,1368.1 536.5,1370.7 538.3,1371.3 540.1,1374.4 542,1371.2 543.8,1373.4 545.6,1373.5 547.4,1372.9 549.2,1372.8 551.1,1375.6 552.9,1372.5 554.7,1375.9 556.5,1377.5 558.3,1376.8 560.2,1376.1 562,1376.8 563.8,1379.6 565.6,1376.5 567.4,1377 569.2,1378.6 571.1,1378.1 572.9,1381.1 574.7,1375.9 576.5,1376.6 578.3,1380.3 580.2,1380.3 582,1383 583.8,1379.7 585.6,1382.9 587.4,1379.5 589.3,1386.7 591.1,1383.4 592.9,1383.2 594.7,1385.7 596.5,1383.9 598.4,1384.4 600.2,1383.5 602,1387.9 603.8,1387.3 605.6,1384.9 607.5,1386.6 609.3,1389.1 611.1,1389.6 612.9,1388 614.7,1389.4 616.5,1390.7 618.4,1387.9 620.2,1392.6 622,1385.6 623.8,1391.1 625.6,1390.5 627.5,1389.7 629.3,1389.1 631.1,1396.8 632.9,1392.2 634.7,1393.2 636.6,1392.7 638.4,1391 640.2,1392 642,1394.2 643.8,1394.3 645.7,1393.7 647.5,1395.7 649.3,1393.1 651.1,1394.9 652.9,1394.3 654.7,1394.5 656.6,1396.1 658.4,1397.9 660.2,1398.4 662,1398.7 663.8,1401.2 665.7,1398.5 667.5,1396.6 669.3,1403.3 671.1,1402 672.9,1401.3 674.8,1400.5 676.6,1399 678.4,1403.3 680.2,1399.6 682,1402 683.9,1401.3 685.7,1400.9 687.5,1402.6 689.3,1407.6 691.1,1403.1 693,1405.4 694.8,1403 696.6,1402.4 698.4,1404.3 700.2,1405.5 702,1402.2 703.9,1406.2 705.7,1406.1 707.5,1407.2 709.3,1411.8 711.1,1407.6 713,1406.1 714.8,1412.8 716.6,1411.8 718.4,1406.8 720.2,1406.8 722.1,1407.1 723.9,1411.4 725.7,1409.3 727.5,1413 729.3,1411.9 731.2,1411.4 733,1416 734.8,1412.5 736.6,1413 738.4,1412.4 740.3,1413 742.1,1413.1 743.9,1414.3 745.7,1415 747.5,1415.2 749.3,1413.6 751.2,1419.6 753,1416.2 754.8,1416 756.6,1415.2 758.4,1416.5 760.3,1419.2 762.1,1415.9 763.9,1417.7 765.7,1416.4 767.5,1421.9 769.4,1421 771.2,1416.4 773,1418.4 774.8,1424.8 776.6,1418.5 778.5,1420.7 780.3,1420.4 782.1,1417 783.9,1423.1 785.7,1421.7 787.6,1421 789.4,1426.5 791.2,1422.3 793,1424.4 794.8,1421.5 796.6,1423.8 798.5,1425 800.3,1422.2 802.1,1425 803.9,1425 805.7,1420.1 807.6,1423.5 809.4,1423.6 811.2,1426.8 813,1421.2 814.8,1427.3 816.7,1423.8 818.5,1427.8 820.3,1427.3 822.1,1422.4 823.9,1425.9 825.8,1425.4 827.6,1421.9 829.4,1431.4 831.2,1434.3 833,1425.6 834.9,1425.5 836.7,1432.8 838.5,1426.3 840.3,1425.2 842.1,1432.4 843.9,1426.2 845.8,1431.9 847.6,1430.2 849.4,1432.2 851.2,1431.4 853,1430.5 854.9,1434 856.7,1431.6 858.5,1435.5 860.3,1431.1 862.1,1428.8 864,1431.1 865.8,1435.9 867.6,1427 869.4,1434 871.2,1438.9 873.1,1434.8 874.9,1434.8 876.7,1438.2 878.5,1435.6 880.3,1439.8 882.1,1435.3 884,1433 885.8,1440.7 887.6,1437.2 889.4,1435.4 891.2,1442.9 893.1,1440.2 894.9,1438.5 896.7,1438.3 898.5,1440 900.3,1425.5 902.2,1440.6 904,1441.9 905.8,1440.4 907.6,1438.2 909.4,1440.5 911.3,1442.4 913.1,1442.4 914.9,1436.6 916.7,1441.7 918.5,1435.9 920.4,1436.9 922.2,1437 924,1445.9 925.8,1440.8 927.6,1443.7 929.4,1443.6 931.3,1442 933.1,1434.3 934.9,1442.4 936.7,1442.7 938.5,1442.2 940.4,1442.3 942.2,1442.5 944,1445.9 945.8,1442.3 947.6,1444.4 949.5,1444.1 951.3,1438.9 953.1,1437.4 954.9,1443.8 956.7,1445.3 958.6,1450.6 960.4,1445 962.2,1442.9 964,1443.6 965.8,1444 967.7,1444.8 969.5,1451.1 971.3,1448 973.1,1445.8 974.9,1444.2 976.7,1444.8 978.6,1448.7 980.4,1441.9 982.2,1446.8 984,1449.4 985.8,1444.1 987.7,1448.5 989.5,1440 991.3,1446.9 993.1,1449.7 994.9,1439.2 996.8,1449.6 998.6,1468 1000.4,1448.4 1002.2,1450 1004,1451.9 1005.9,1450.8 1007.7,1445.3 1009.5,1452.1 1011.3,1444.6 1013.1,1444.8 1015,1451 1016.8,1454.1 1018.6,1439.9 1020.4,1459 1022.2,1445.1 1024,1449.1 1025.9,1456.1 1027.7,1448.5 1029.5,1446 1031.3,1442.3 1033.1,1448.5 1035,1453.5 1036.8,1455.1 1038.6,1453 1040.4,1457.6 1042.2,1452.6 1044.1,1458.6 1045.9,1453.3 1047.7,1451 1049.5,1453.1 1051.3,1448.6 1053.2,1450.3 1055,1457.1 1056.8,1456.6 1058.6,1449.9 1060.4,1454 1062.3,1457.6 1064.1,1451.8 1065.9,1452.4 1067.7,1451.3 1069.5,1454.2 1071.3,1449.7 1073.2,1456.1 1075,1454.1 1076.8,1451.5 1078.6,1450.4 1080.4,1445.1 1082.3,1453.7 1084.1,1459 1085.9,1445.4 1087.7,1455.6 1089.5,1455.1 1091.4,1449.4 1093.2,1459.1 1095,1452.4 1096.8,1453.1 1098.6,1449.1 1100.5,1463 1102.3,1447.8 1104.1,1471.5 1105.9,1447.4 1107.7,1451.3 1109.5,1456.4 1111.4,1454.9 1113.2,1457 1115,1463 1116.8,1456.4 1118.6,1459.3 1120.5,1451 1122.3,1454.5 1124.1,1459.5 1125.9,1460.4 1127.7,1453.7 1129.6,1452.7 1131.4,1442.5 1133.2,1464 1135,1454.7 1136.8,1458.1 1138.7,1463.4 1140.5,1464 1142.3,1454.2 1144.1,1453.3 1145.9,1457.2 1147.8,1464.6 1149.6,1456.6 1151.4,1457.7 1153.2,1458.3 1155,1456.3 1156.8,1461.9 1158.7,1458.6 1160.5,1451.8 1162.3,1464.5 1164.1,1453.9 1165.9,1454.5 1167.8,1459.1 1169.6,1465.2 1171.4,1465.2 1173.2,1460.3 1175,1458.4 1176.9,1460.6 1178.7,1455 1180.5,1468.8 1182.3,1456.8 1184.1,1444.5 1186,1452.9 1187.8,1456.9 1189.6,1453.7 1191.4,1456 1193.2,1462.1 1195.1,1460.3 1196.9,1457.1 1198.7,1461.7 1200.5,1462.2 1202.3,1469.2 1204.1,1457.6 1206,1461 1207.8,1461.1 1209.6,1452.9 1211.4,1450.8 1213.2,1461.3 1215.1,1450.2 1216.9,1459 1218.7,1457.4 1220.5,1453.7 1222.3,1459.3 1224.2,1454.2 1226,1456.3 1227.8,1464.5 1229.6,1465 1231.4,1464 1233.3,1455.6 1235.1,1458 1236.9,1451.8 1238.7,1467.1 1240.5,1454.9 1242.4,1461.8 1244.2,1460.6 1246,1471.1 1247.8,1452.4 1249.6,1461.2 1251.4,1460.1 1253.3,1460.6 1255.1,1453.5 1256.9,1461.6 1258.7,1458.5 1260.5,1459.5 1262.4,1464.9 1264.2,1461.4 1266,1461.1 1267.8,1455.2 1269.6,1459 1271.5,1465.2 1273.3,1456.1 1275.1,1464.2 1276.9,1454.3 1278.7,1462.4 1280.6,1460.7 1282.4,1463.1 1284.2,1449.1 1286,1462.8 1287.8,1466 1289.7,1460.2 1291.5,1460.7 1293.3,1455.2 1295.1,1473.8 1296.9,1458.3 1298.7,1459.2 1300.6,1459.8 1302.4,1457.6 1304.2,1471.8 1306,1459.6 1307.8,1465 1309.7,1449.2 1311.5,1458.3 1313.3,1465.2 1315.1,1462.6 1316.9,1460 1318.8,1458.7 1320.6,1467.4 1322.4,1461.8 1324.2,1459.8 1326,1456.2 1327.9,1454.7 1329.7,1466.4 1331.5,1461.7 1333.3,1458.3 1335.1,1464 1336.9,1462.3 1338.8,1458 1340.6,1461 1342.4,1454.2 1344.2,1457.1 1346,1464.6 1347.9,1468.1 1349.7,1463.8 1351.5,1453.7 1353.3,1459.8 1355.1,1464.5 1357,1457 1358.8,1461.9 1360.6,1462.7 1362.4,1471.3 1364.2,1461.5 1366.1,1455.7 1367.9,1463.8 1369.7,1461.5 1371.5,1469.2 1373.3,1464.6 1375.2,1460.6 1377,1463.2 1378.8,1460.1 1380.6,1454.7 1382.4,1463.1 1384.2,1458 1386.1,1451.1 1387.9,1451.9 1389.7,1463.7 1391.5,1465.3 1393.3,1459 1395.2,1463.3 1397,1462.5 1398.8,1460.2 1400.6,1456.4 1402.4,1455.2 1404.3,1458.3 1406.1,1469 1407.9,1464.9 1409.7,1462.6 1411.5,1464.9 1413.4,1461.2 1415.2,1468.2 1417,1458 1418.8,1453.8 1420.6,1459.9 1422.5,1473.9 1424.3,1461.3 1426.1,1462 1427.9,1466.5 1429.7,1461.6 1431.5,1460.4 1433.4,1455.3 1435.2,1461.1 1437,1459.2 1438.8,1476.9 1440.6,1464.4 1442.5,1464.1 1444.3,1459.2 1446.1,1463.3 1447.9,1467 1449.7,1454.8 1451.6,1459.9 1453.4,1467.3 1455.2,1464 1457,1458 1458.8,1462 1460.7,1465.9 1462.5,1461.6 1464.3,1463.5 1466.1,1464.3 1467.9,1452.7 1469.8,1458 1471.6,1464.5 1473.4,1464.7 1475.2,1468.4 1477,1465.5 1478.8,1450.6 1480.7,1458.1 1482.5,1458.5 1484.3,1466.8 1486.1,1463.2 1487.9,1453.1 1489.8,1465.2 1491.6,1464.4 1493.4,1466.1 1495.2,1457.7 1497,1459.9 1498.9,1462.7 1500.7,1463.8 1502.5,1460.9 1504.3,1462.7 1506.1,1460.3 1508,1464.8 1509.8,1466 1511.6,1461.1 1513.4,1466.7 1515.2,1461.2 1517.1,1462.7 1518.9,1469.4 1520.7,1475.2 1522.5,1457.6 1524.3,1459 1526.1,1460.7 1528,1461.8 1529.8,1458.2 1531.6,1462.6 1533.4,1460.1 1535.2,1471 1537.1,1457 1538.9,1469.3 1540.7,1462.2 1542.5,1464.6 1544.3,1458.6 1546.2,1471.7 1548,1456.7 1549.8,1467.3 1551.6,1466.2 1553.4,1466.6 1555.3,1468.6 1557.1,1466.9 1558.9,1465.5 1560.7,1462.7 1562.5,1465.4 1564.3,1465.9 1566.2,1462.5 1568,1455.7 1569.8,1462.5 1571.6,1475.4 1573.4,1468.2 1575.3,1467.6 1577.1,1465 1578.9,1472.4 1580.7,1469.5 1582.5,1463.3 1584.4,1462.4 1586.2,1465.4 1588,1474.4 1589.8,1469.6 1591.6,1459.4 1593.5,1467.5 1595.3,1465.7 1597.1,1455.5 1598.9,1463.5 1600.7,1460.6 1602.6,1470.3 1604.4,1471.3 1606.2,1461.3 1608,1467.7 1609.8,1465.5 1611.6,1468.5 1613.5,1461.8 1615.3,1461.5 1617.1,1453.1 1618.9,1459.4 1620.7,1467.8 1622.6,1466 1624.4,1464 1626.2,1466.4 1628,1465 1629.8,1461.9 1631.7,1458.4 1633.5,1460.5 1635.3,1461.2 1637.1,1465.4 1638.9,1461 1640.8,1464 1642.6,1462.7 1644.4,1458.6 1646.2,1469.6 1648,1459.9 1649.9,1465.5 1651.7,1461.9 1653.5,1458.7 1655.3,1465 1657.1,1466.3 1658.9,1464.3 1660.8,1467.3 1662.6,1463.9 1664.4,1461.3 1666.2,1467.2 1668,1463.9 1669.9,1456.2 1671.7,1464 1673.5,1463.7 1675.3,1465.2 1677.1,1461.7 1679,1461.1 1680.8,1464.5 1682.6,1463 1684.4,1463.2 1686.2,1451.9 1688.1,1464.8 1689.9,1458.9 1691.7,1462.9 1693.5,1461.8 1695.3,1470.8 1697.2,1472.8 1699,1461.3 1700.8,1462.5 1702.6,1461.1 1704.4,1467.9 1706.2,1467 1708.1,1461 1709.9,1465.2 1711.7,1461.1 1713.5,1452.1 1715.3,1460.3 1717.2,1464.1 1719,1457.4 1720.8,1466.8 1722.6,1452.5 1724.4,1475.2 1726.3,1468.7 1728.1,1458.8 1729.9,1462.9 1731.7,1463.1 1733.5,1455.3 1735.4,1471.8 1737.2,1455.2 1739,1460.4 1740.8,1463.9 1742.6,1464.6 1744.5,1466.4 1746.3,1461.6 1748.1,1454.8 1749.9,1464.8 1751.7,1469.2 1753.5,1470.6 1755.4,1470.5 1757.2,1463.6 1759,1466.8 1760.8,1453.4 1762.6,1458.3 1764.5,1469.2 1766.3,1461.4 1768.1,1463.3 1769.9,1463.9 1771.7,1459.2 1773.6,1461.5 1775.4,1470.8 1777.2,1461.8 1779,1468 1780.8,1463.8 1782.7,1461.5 1784.5,1462.3 1786.3,1464.1 1788.1,1469 1789.9,1465.4 1791.7,1458.1 1793.6,1463.8 1795.4,1468.5 1797.2,1461.8 1799,1463.1 1800.8,1457 1802.7,1454.5 1804.5,1456.2 1806.3,1463.7 1808.1,1461.1 1809.9,1464 1811.8,1471.2 1813.6,1465.9 1815.4,1460.9 1817.2,1468 1819,1461.3 1820.9,1470.9 1822.7,1471.2 1824.5,1464 1826.3,1470.5 1828.1,1473.7 1830,1459.2 1831.8,1463.5 1833.6,1463.9 1835.4,1463.2 1837.2,1454.9 1839,1467 1840.9,1467.3 1842.7,1466 1844.5,1460.5 1846.3,1470.6 1848.1,1460.8 1850,1460.9 1851.8,1463 1853.6,1453.6 1855.4,1463.9 1857.2,1458.1 1859.1,1464.8 1860.9,1465.1 1862.7,1464.4 1864.5,1464.3 1866.3,1466.6 1868.2,1462.8 1870,1464.7 1871.8,1463.5 1873.6,1458.6 1875.4,1457.6 1877.3,1469.7 1879.1,1458.6 1880.9,1460 1882.7,1465 1884.5,1459.9 1886.3,1458.4 1888.2,1456.9 1890,1465 1891.8,1470.1 1893.6,1471.8 1895.4,1456.3 1897.3,1458.7 1899.1,1466.2 1900.9,1465.1 1902.7,1459.8 1904.5,1464.1 1906.4,1461.6 1908.2,1457.6 1910,1465.8 1911.8,1459.3 1913.6,1462 1915.5,1467.4 1917.3,1466.5 1919.1,1458.8 1920.9,1469 1922.7,1464.7 1924.6,1458 1926.4,1456.2 1928.2,1465.9 1930,1460 1931.8,1466 1933.6,1459.5 1935.5,1460.5 1937.3,1457.9 1939.1,1460.1 1940.9,1458.5 1942.7,1465.6 1944.6,1467.9 1946.4,1457.9 1948.2,1463.4 1950,1459.7 1951.8,1475.2 1953.7,1467.3 1955.5,1458.3 1957.3,1464.6 1959.1,1452.9 1960.9,1464.9 1962.8,1466.2 1964.6,1454 1966.4,1473.6 1968.2,1456.5 1970,1471.2 1971.9,1461.3 1973.7,1464.7 1975.5,1470 1977.3,1457.7 1979.1,1463.5 1980.9,1472.8 1982.8,1465.8 1984.6,1471.1 1986.4,1465.2 1988.2,1466.9 1990,1463.8 1991.9,1458.8 1993.7,1458.2"/></g>
<use href="#s0" x="1682.1" y="120.8"/>
<text transform="translate(1758.9 144.1) scale(1 1.04)" font-size="68.1">x=0.15</text>
<text transform="translate(201.6 254.8) scale(1 1.04)" font-size="68.1">3.23 ms</text>
<use href="#s1" x="1682.1" y="360.5"/>
<text transform="translate(1758.9 384.2) scale(1 1.04)" font-size="68.1">x=0.30</text>
<text transform="translate(201.6 502.9) scale(1 1.04)" font-size="68.1">3.30 ms</text>
<use href="#s2" x="1682.1" y="603.5"/>
<text transform="translate(1758.9 627.3) scale(1 1.04)" font-size="68.1">x=0.45</text>
<text transform="translate(201.6 744.6) scale(1 1.04)" font-size="68.1">3.29 ms</text>
<use href="#s3" x="1682.1" y="846.6"/>
<text transform="translate(1758.9 869.9) scale(1 1.04)" font-size="68.1">x=0.60</text>
<text transform="translate(201.6 984.6) scale(1 1.04)" font-size="68.1">3.28 ms</text>
<use href="#s4" x="1682.1" y="1090.1"/>
<text transform="translate(1758.9 1113.7) scale(1 1.04)" font-size="68.1">x=0.75</text>
<text transform="translate(201.6 1230.7) scale(1 1.04)" font-size="68.1">3.23 ms</text>
<use href="#s5" x="1682.1" y="1329.7"/>
<text transform="translate(1758.9 1353.7) scale(1 1.04)" font-size="68.1">x=0.90</text>
<text transform="translate(201.6 1469.2) scale(1 1.04)" font-size="68.1">3.19 ms</text>
<text transform="translate(176.3 1612.1) scale(1 1.04)" font-size="78.7" text-anchor="middle">0</text>
<text transform="translate(631.1 1612.1) scale(1 1.04)" font-size="78.7" text-anchor="middle">10</text>
<text transform="translate(1085.9 1612.1) scale(1 1.04)" font-size="78.7" text-anchor="middle">20</text>
<text transform="translate(1540.7 1612.1) scale(1 1.04)" font-size="78.7" text-anchor="middle">30</text>
<text transform="translate(1995.5 1612.1) scale(1 1.04)" font-size="78.7" text-anchor="middle">40</text>
<text transform="translate(868.7 1712) scale(1 1.04)" font-size="102.9">Time (ms)</text>
<text transform="translate(108 1145.1) rotate(-90) scale(1 1.04)" font-size="102.9">Intensity (a.u.)</text>
</svg>
</body></html>
